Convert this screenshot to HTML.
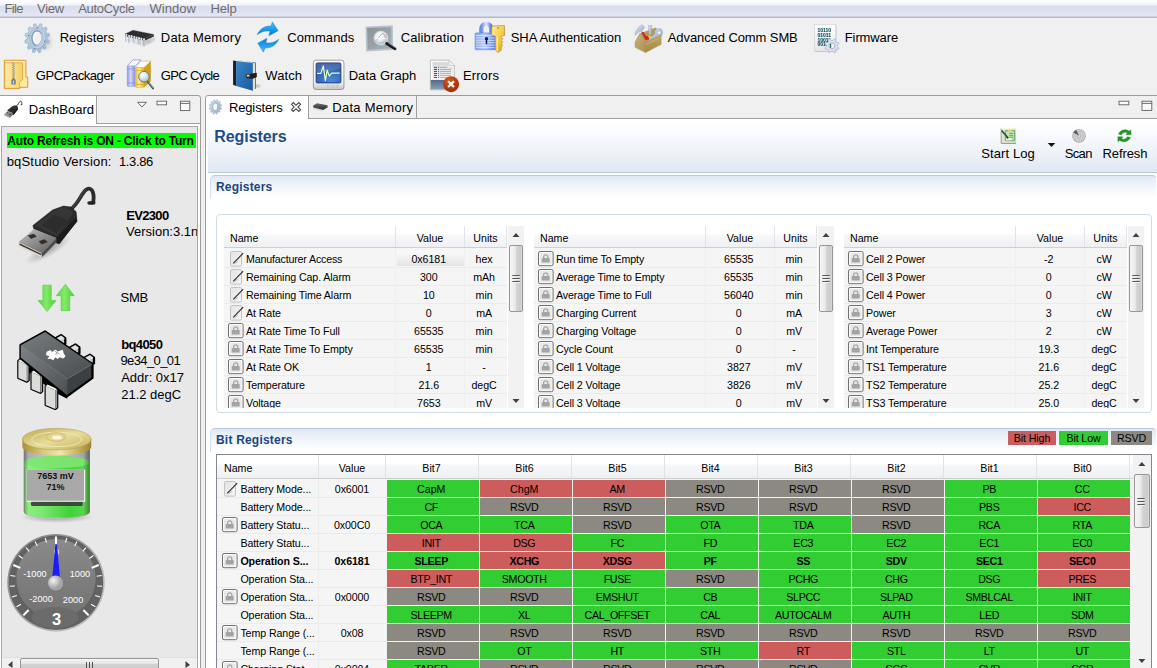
<!DOCTYPE html><html><head><meta charset="utf-8"><title>bqStudio</title><style>
*{box-sizing:border-box;margin:0;padding:0}
html,body{width:1157px;height:668px;overflow:hidden;background:#f0f0f0;font-family:"Liberation Sans",sans-serif;font-size:13px;color:#000}
.a{position:absolute}
.t{position:absolute;white-space:pre;line-height:16px;height:16px}
#menubar{left:0;top:0;width:1157px;height:18px;background:linear-gradient(#ffffff 0px,#f3f4fa 5px,#d9ddee 6px,#e3e6f4 16px,#b4b9cc 17px,#b4b9cc 18px)}
#menubar span{position:absolute;top:1px;color:#6d6d6d;font-size:13px;line-height:16px;white-space:pre}
.tb{position:absolute;font-size:13px;line-height:16px;white-space:pre}
.ar{font-size:11px}
.hd{position:absolute;font-size:10.67px;line-height:14px;white-space:pre}
.rowt{position:absolute;font-size:10.67px;line-height:14px;white-space:pre;letter-spacing:-0.1px}
.rowv{letter-spacing:-0.05px}
.uc{letter-spacing:-0.32px}
.cell{position:absolute;height:17px;width:92px;font-size:10.67px;line-height:14px;text-align:center;padding-top:3px;padding-right:3.5px;white-space:pre}
.G{background:#32cd32}.R{background:#cd5c5c}.V{background:#8b8982}
.b{font-weight:bold}
</style></head><body>
<svg class="a" width="0" height="0" style="left:0;top:0"><defs><linearGradient id="eg" x1="0" y1="0" x2="1" y2="1"><stop offset="0" stop-color="#e2e2e2"/><stop offset="1" stop-color="#f6f6f6"/></linearGradient></defs></svg>
<div id="menubar" class="a">
<span style="letter-spacing:-0.663px;left:4.5px">File</span>
<span style="letter-spacing:-0.238px;left:37px">View</span>
<span style="letter-spacing:-0.294px;left:78.2px">AutoCycle</span>
<span style="letter-spacing:0.058px;left:149.4px">Window</span>
<span style="letter-spacing:-0.188px;left:210.6px">Help</span>
</div>
<div class="tb" style="letter-spacing:-0.058px;left:59.7px;top:30px">Registers</div>
<div class="tb" style="letter-spacing:0.206px;left:160.8px;top:30px">Data Memory</div>
<div class="tb" style="letter-spacing:0.066px;left:287.3px;top:30px">Commands</div>
<div class="tb" style="letter-spacing:0.122px;left:400.7px;top:30px">Calibration</div>
<div class="tb" style="letter-spacing:-0.051px;left:510.7px;top:30px">SHA Authentication</div>
<div class="tb" style="letter-spacing:-0.094px;left:667.8px;top:30px">Advanced Comm SMB</div>
<div class="tb" style="letter-spacing:-0.121px;left:844.8px;top:30px">Firmware</div>
<div class="tb" style="letter-spacing:-0.436px;left:35.8px;top:68px">GPCPackager</div>
<div class="tb" style="letter-spacing:-0.666px;left:160.8px;top:68px">GPC Cycle</div>
<div class="tb" style="letter-spacing:0.068px;left:265.3px;top:68px">Watch</div>
<div class="tb" style="letter-spacing:0.040px;left:348.7px;top:68px">Data Graph</div>
<div class="tb" style="letter-spacing:0.135px;left:462.9px;top:68px">Errors</div>
<svg class="a" style="left:20px;top:19px" width="38" height="38" viewBox="20 19 38 38"><defs><linearGradient id="gg" x1="0" y1="0" x2="1" y2="1"><stop offset="0" stop-color="#cfdeec"/><stop offset="0.45" stop-color="#b7cadd"/><stop offset="1" stop-color="#8fa9c4"/></linearGradient><linearGradient id="gg2" x1="0" y1="0" x2="1" y2="1"><stop offset="0" stop-color="#94aecb"/><stop offset="1" stop-color="#dbe6f0"/></linearGradient><radialGradient id="gsh"><stop offset="0" stop-color="#000" stop-opacity="0.16"/><stop offset="1" stop-color="#000" stop-opacity="0"/></radialGradient></defs><ellipse cx="46" cy="42" rx="8" ry="10" fill="url(#gsh)"/><g transform="translate(37.2 38.2) rotate(8) scale(12.7 15)"><path d="M0.97 0.07 L0.95 0.21 L0.74 0.25 L0.69 0.37 L0.80 0.55 L0.71 0.66 L0.52 0.59 L0.41 0.66 L0.42 0.87 L0.29 0.93 L0.15 0.76 L0.02 0.78 L-0.07 0.97 L-0.21 0.95 L-0.25 0.74 L-0.37 0.69 L-0.55 0.80 L-0.66 0.71 L-0.59 0.52 L-0.66 0.41 L-0.87 0.42 L-0.93 0.29 L-0.76 0.15 L-0.78 0.02 L-0.97 -0.07 L-0.95 -0.21 L-0.74 -0.25 L-0.69 -0.37 L-0.80 -0.55 L-0.71 -0.66 L-0.52 -0.59 L-0.41 -0.66 L-0.42 -0.87 L-0.29 -0.93 L-0.15 -0.76 L-0.02 -0.78 L0.07 -0.97 L0.21 -0.95 L0.25 -0.74 L0.37 -0.69 L0.55 -0.80 L0.66 -0.71 L0.59 -0.52 L0.66 -0.41 L0.87 -0.42 L0.93 -0.29 L0.76 -0.15 L0.78 -0.02Z" fill="url(#gg)" stroke="#a9bfd6" stroke-width="0.09" stroke-linejoin="round"/><ellipse cx="-0.02" cy="-0.02" rx="0.58" ry="0.64" fill="none" stroke="url(#gg2)" stroke-width="0.07" transform="rotate(-14)"/><ellipse cx="-0.02" cy="-0.02" rx="0.39" ry="0.49" fill="#f2f2f3" stroke="#7b99c0" stroke-width="0.1" transform="rotate(-14)"/><ellipse cx="0.05" cy="0.04" rx="0.33" ry="0.43" fill="none" stroke="#ffffff" stroke-width="0.06" transform="rotate(-14)" opacity="0.8"/><circle cx="-0.12" cy="-0.68" r="0.045" fill="#4a6a94"/><circle cx="-0.08" cy="0.7" r="0.045" fill="#4a6a94"/><circle cx="-0.7" cy="-0.1" r="0.045" fill="#4a6a94"/><circle cx="0.62" cy="0.12" r="0.045" fill="#4a6a94"/></g></svg>
<svg class="a" style="left:120px;top:22px" width="40" height="32" viewBox="120 22 40 32"><defs><linearGradient id="pin" x1="0" y1="0" x2="1" y2="0"><stop offset="0" stop-color="#8a94a8"/><stop offset="0.5" stop-color="#eef2f8"/><stop offset="1" stop-color="#98a2b4"/></linearGradient><radialGradient id="csh"><stop offset="0" stop-color="#000" stop-opacity="0.25"/><stop offset="1" stop-color="#000" stop-opacity="0"/></radialGradient></defs><ellipse cx="148" cy="41.5" rx="9" ry="4" fill="url(#csh)" transform="rotate(-22 148 41.5)"/><rect x="146.83" y="37.81" width="1.1" height="5.5" fill="#c4ccd8" opacity="0.8"/><rect x="148.98" y="36.95" width="1.1" height="5.5" fill="#c4ccd8" opacity="0.8"/><rect x="151.14" y="36.08" width="1.1" height="5.5" fill="#c4ccd8" opacity="0.8"/><rect x="153.29" y="35.22" width="1.1" height="5.5" fill="#c4ccd8" opacity="0.8"/><polygon points="125.03,33.98 144.43,38.53 144.43,40.78 125.03,35.99" fill="#1c1c1c"/><polygon points="144.43,38.53 153.77,34.46 153.77,36.61 144.43,40.78" fill="#303030"/><polygon points="132.93,30.14 153.77,34.46 144.43,38.53 125.03,33.98" fill="#2d2d2d" stroke="#3a3a3a" stroke-width="0.3"/><rect x="125.56" y="34.22" width="1.5" height="7.42" fill="url(#pin)"/><rect x="125.36" y="34.22" width="1.9" height="1.6" fill="#dfe6f0"/><rect x="128.43" y="35.17" width="1.5" height="7.52" fill="url(#pin)"/><rect x="128.23000000000002" y="35.17" width="1.9" height="1.6" fill="#dfe6f0"/><rect x="130.83" y="35.51" width="1.5" height="6.23" fill="url(#pin)"/><rect x="130.63000000000002" y="35.51" width="1.9" height="1.6" fill="#dfe6f0"/><rect x="133.46" y="36.28" width="1.5" height="6.89" fill="url(#pin)"/><rect x="133.26000000000002" y="36.28" width="1.9" height="1.6" fill="#dfe6f0"/><rect x="135.86" y="36.95" width="1.5" height="7.56" fill="url(#pin)"/><rect x="135.66000000000003" y="36.95" width="1.9" height="1.6" fill="#dfe6f0"/><rect x="138.25" y="37.43" width="1.5" height="7.08" fill="url(#pin)"/><rect x="138.05" y="37.43" width="1.9" height="1.6" fill="#dfe6f0"/><rect x="140.65" y="38.05" width="1.5" height="7.66" fill="url(#pin)"/><rect x="140.45000000000002" y="38.05" width="1.9" height="1.6" fill="#dfe6f0"/><rect x="143.28" y="38.67" width="1.5" height="7.86" fill="url(#pin)"/><rect x="143.08" y="38.67" width="1.9" height="1.6" fill="#dfe6f0"/></svg>
<svg class="a" style="left:250px;top:18px" width="40" height="40" viewBox="250 18 40 40"><defs><linearGradient id="ca" x1="0" y1="0" x2="0" y2="1"><stop offset="0" stop-color="#52bdf8"/><stop offset="0.55" stop-color="#1a9cee"/><stop offset="1" stop-color="#0a7ad0"/></linearGradient></defs><path d="M 257.19 34.77 C 260.18 28.18 265.57 25.78 270.96 26.08 L 272.46 21.89 L 278.14 30.87 L 268.86 35.66 L 270.06 31.29 C 265.57 30.28 260.78 31.77 257.19 34.77 Z" fill="url(#ca)" stroke="#2c7fc0" stroke-width="0.5" stroke-linejoin="round"/><g transform="rotate(180 267.96 37.01)"><path d="M 257.19 34.77 C 260.18 28.18 265.57 25.78 270.96 26.08 L 272.46 21.89 L 278.14 30.87 L 268.86 35.66 L 270.06 31.29 C 265.57 30.28 260.78 31.77 257.19 34.77 Z" fill="url(#ca)" stroke="#2c7fc0" stroke-width="0.5" stroke-linejoin="round"/></g></svg>
<svg class="a" style="left:360px;top:18px" width="40" height="40" viewBox="360 18 40 40"><defs><linearGradient id="cf" x1="0" y1="0" x2="1" y2="1"><stop offset="0" stop-color="#8a9298"/><stop offset="1" stop-color="#aab2b8"/></linearGradient><radialGradient id="lens" cx="0.4" cy="0.35"><stop offset="0" stop-color="#ffffff"/><stop offset="0.7" stop-color="#e4ecf2"/><stop offset="1" stop-color="#b9c9d6"/></radialGradient></defs><polygon points="366.29,27.28 392.04,26.08 392.34,49.14 366.89,50.63" fill="url(#cf)" stroke="#b9c6cf" stroke-width="1.6" stroke-linejoin="round"/><path d="M 369.88 38.36 L 371.98 37.16 M 388.14 37.76 L 389.94 37.16" stroke="#e08080" stroke-width="0.8" fill="none"/><circle cx="380.96" cy="38.06" r="6.9" fill="url(#lens)" stroke="#d5dee6" stroke-width="1"/><path d="M 375.27 40.75 L 377.37 39.56 L 378.56 37.76 L 379.76 35.96 L 380.66 35.37 L 382.16 33.57 L 383.65 33.69 L 384.85 35.96 L 386.05 38.96" stroke="#f08a8a" stroke-width="0.9" fill="none"/><path d="M 375.27 38.66 L 386.95 38.66" stroke="#fff" stroke-width="0.7"/><path d="M 386.65 43.45 L 395.03 48.84" stroke="#1a1a1a" stroke-width="2.8" stroke-linecap="round"/><path d="M 388.14 43.15 L 395.93 48.24" stroke="#888" stroke-width="0.6"/></svg>
<svg class="a" style="left:470px;top:18px" width="40" height="40" viewBox="470 18 40 40"><defs><linearGradient id="lk" x1="0" y1="0" x2="1" y2="0"><stop offset="0" stop-color="#86a6ee"/><stop offset="0.5" stop-color="#b8ccfa"/><stop offset="1" stop-color="#5c7fdc"/></linearGradient><linearGradient id="ky" x1="0" y1="0" x2="1" y2="1"><stop offset="0" stop-color="#fff0a0"/><stop offset="0.5" stop-color="#f6cf4a"/><stop offset="1" stop-color="#d99a18"/></linearGradient><linearGradient id="sh" x1="0" y1="0" x2="1" y2="0"><stop offset="0" stop-color="#6d8fe6"/><stop offset="0.5" stop-color="#dfe9ff"/><stop offset="1" stop-color="#5577d6"/></linearGradient></defs><path d="M 481.38 33.57 L 481.38 28.78 C 481.38 22.19 491.26 22.19 491.26 28.78 L 491.26 33.57" fill="none" stroke="url(#sh)" stroke-width="4.4"/><rect x="475.09" y="32.97" width="20.06" height="16.77" rx="1" fill="url(#lk)" stroke="#5b7cd8" stroke-width="0.6"/><rect x="475.69" y="35.07" width="19" height="0.9" fill="#e6eeff" opacity="0.75"/><rect x="475.69" y="37.46" width="19" height="0.9" fill="#e6eeff" opacity="0.75"/><rect x="475.69" y="39.86" width="19" height="0.9" fill="#e6eeff" opacity="0.75"/><rect x="475.69" y="42.25" width="19" height="0.9" fill="#e6eeff" opacity="0.75"/><rect x="475.69" y="44.65" width="19" height="0.9" fill="#e6eeff" opacity="0.75"/><rect x="475.69" y="47.04" width="19" height="0.9" fill="#e6eeff" opacity="0.75"/><circle cx="486.47" cy="38.66" r="1.7" fill="#0b1a6a"/><rect x="485.67" y="38.66" width="1.6" height="5.6" fill="#0b1a6a"/><path d="M 491.86 26.08 L 504.43 25.49 L 504.73 35.37 L 501.14 36.26 L 501.14 37.76 L 502.81 38.66 L 501.26 40.46 L 502.81 41.95 L 501.26 43.75 L 502.63 45.25 L 501.26 46.74 L 501.14 50.34 L 497.84 52.61 L 495.45 50.34 L 495.45 36.26 L 491.56 35.07 Z" fill="url(#ky)" stroke="#b98a3e" stroke-width="0.7" stroke-linejoin="round"/><path d="M 497.25 36.56 L 497.25 51.53" stroke="#fff6c0" stroke-width="1"/><circle cx="498.14" cy="27.88" r="1.1" fill="#c79a3a"/></svg>
<svg class="a" style="left:630px;top:18px" width="40" height="40" viewBox="630 18 40 40"><defs><linearGradient id="tl" x1="0" y1="0" x2="1" y2="1"><stop offset="0" stop-color="#cdb47a"/><stop offset="1" stop-color="#a88e52"/></linearGradient><linearGradient id="tf" x1="0" y1="0" x2="0" y2="1"><stop offset="0" stop-color="#c2a662"/><stop offset="1" stop-color="#a38845"/></linearGradient><linearGradient id="sv" x1="0" y1="0" x2="1" y2="1"><stop offset="0" stop-color="#e8eef8"/><stop offset="1" stop-color="#8e9ebc"/></linearGradient></defs><polygon points="639.88,33.57 655.75,27.58 661.14,35.37 645.57,41.95" fill="#b59a5a"/><path d="M 635.09 35.37 C 634.79 31.17 637.78 27.58 641.98 24.59 L 644.67 26.98 L 642.87 29.98 L 638.98 32.07 Z" fill="url(#sv)" stroke="#8c9cb8" stroke-width="0.4"/><polygon points="641.08,31.47 643.47,32.07 647.96,39.56 645.57,40.16" fill="#d02020"/><polygon points="648.26,25.49 651.86,25.49 651.26,35.37 649.16,35.37" fill="url(#sv)" stroke="#8c9cb8" stroke-width="0.4"/><polygon points="647.96,35.96 652.16,35.96 649.76,40.16" fill="#f4d020"/><polygon points="645.27,36.56 647.96,35.96 649.76,40.16 647.37,39.56" fill="#d82020"/><path d="M 646.17 41.95 L 647.96 40.46 L 655.15 33.57 C 653.95 29.98 656.95 27.58 661.14 28.78 L 662.63 31.77 L 662.04 35.37 L 658.14 36.56 L 649.76 42.55 Z" fill="url(#sv)" stroke="#8c9cb8" stroke-width="0.4"/><circle cx="659.04" cy="32.67" r="2" fill="#f4f6fa" stroke="#7f90b0" stroke-width="0.5"/><polygon points="635.09,47.34 635.09,41.95 639.88,33.57 645.57,41.95 645.57,52.61" fill="url(#tl)" stroke="#9a8044" stroke-width="0.4" stroke-linejoin="round"/><polygon points="645.57,41.95 661.14,35.37 661.14,44.35 645.57,52.61" fill="url(#tf)" stroke="#9a8044" stroke-width="0.4" stroke-linejoin="round"/><path d="M 645.69 44.35 L 661.14 37.46" stroke="#d4bc80" stroke-width="0.6"/></svg>
<svg class="a" style="left:808px;top:18px" width="40" height="40" viewBox="808 18 40 40"><defs><linearGradient id="pg" x1="0" y1="0" x2="0" y2="1"><stop offset="0" stop-color="#ffffff"/><stop offset="1" stop-color="#e6e6e6"/></linearGradient><filter id="nf" x="0" y="0" width="1" height="1"><feOffset dx="0" dy="0"/></filter></defs><rect x="815.19" y="25.09" width="21.25" height="26.94" fill="#000" opacity="0.18"/><rect x="814.59" y="24.29" width="21.25" height="26.94" fill="url(#pg)" stroke="#c4c4c4" stroke-width="0.5"/><g filter="url(#nf)"><text x="817.58" y="31.77" font-family="Liberation Sans, sans-serif" font-weight="bold" font-size="5" fill="#08485a" stroke="#08485a" stroke-width="0.1" textLength="13.4" lengthAdjust="spacing">10110</text><text x="817.58" y="36.56" font-family="Liberation Sans, sans-serif" font-weight="bold" font-size="5" fill="#08485a" stroke="#08485a" stroke-width="0.1" textLength="13.4" lengthAdjust="spacing">01011</text><text x="817.58" y="41.65" font-family="Liberation Sans, sans-serif" font-weight="bold" font-size="5" fill="#08485a" stroke="#08485a" stroke-width="0.1" textLength="13.4" lengthAdjust="spacing">10011</text><text x="817.58" y="46.44" font-family="Liberation Sans, sans-serif" font-weight="bold" font-size="5" fill="#08485a" stroke="#08485a" stroke-width="0.1" textLength="13.4" lengthAdjust="spacing">00101</text></g><path d="M839.03 47.99 L838.45 49.38 L836.31 49.03 L835.11 50.22 L835.44 52.37 L834.04 52.94 L832.78 51.18 L831.09 51.17 L829.80 52.92 L828.41 52.34 L828.76 50.20 L827.57 49.00 L825.42 49.33 L824.85 47.93 L826.61 46.67 L826.62 44.98 L824.87 43.69 L825.45 42.30 L827.59 42.65 L828.79 41.46 L828.46 39.31 L829.86 38.74 L831.12 40.50 L832.81 40.51 L834.10 38.76 L835.49 39.34 L835.14 41.48 L836.33 42.68 L838.48 42.35 L839.05 43.75 L837.29 45.01 L837.28 46.70Z" fill="#dde2f3" stroke="#a9b1c9" stroke-width="0.7" stroke-linejoin="round"/><circle cx="831.95" cy="45.84" r="2.9" fill="#f4f4f8" stroke="#9aa4c0" stroke-width="0.8"/><path d="M830.6500000000001 43.84 v4" stroke="#0b4a5a" stroke-width="1"/></svg>
<svg class="a" style="left:0px;top:56px" width="40" height="40" viewBox="0 56 40 40"><defs><linearGradient id="fz" x1="0" y1="0" x2="1" y2="0"><stop offset="0" stop-color="#ffeaa4"/><stop offset="1" stop-color="#f7d264"/></linearGradient></defs><path d="M 4.31 60.31 H 25.93 V 77.08 H 27.72 V 87.32 H 19.76 V 88.63 H 4.31 Z" fill="#ffe9a2" stroke="#d88f20" stroke-width="0.9" stroke-linejoin="round"/><path d="M 5.09 61.99 H 25.15" stroke="#fff8dc" stroke-width="1"/><path d="M 4.79 62.71 H 22.46 V 79.65 L 19.46 82.23 V 88.34 H 4.79 Z" fill="url(#fz)" stroke="#dc9a30" stroke-width="0.7" stroke-linejoin="round"/><path d="M 13.47 61.99 L 12.28 63.07 L 14.67 64.14 L 12.28 65.22 L 14.67 66.3 L 12.28 67.38 L 14.67 68.46 L 12.28 69.53 L 14.67 70.61 L 12.28 71.69 L 14.67 72.77 L 12.28 73.84 L 14.67 74.92 L 12.28 76.0 L 14.67 77.08 L 12.28 78.16" stroke="#60709a" stroke-width="0.5" fill="none"/><polygon points="11.38,79.95 13.47,77.86 15.69,79.95 15.69,84.62 11.38,84.62" fill="#6c7a9c"/><rect x="12.87" y="80.55" width="1.3" height="3.2" fill="#c8d0e0"/></svg>
<svg class="a" style="left:120px;top:56px" width="40" height="40" viewBox="120 56 40 40"><defs><linearGradient id="bb" x1="0" y1="0" x2="1" y2="0"><stop offset="0" stop-color="#9098ec"/><stop offset="0.45" stop-color="#d4d8ff"/><stop offset="1" stop-color="#8890e4"/></linearGradient><linearGradient id="yb" x1="0" y1="0" x2="1" y2="0"><stop offset="0" stop-color="#e8b820"/><stop offset="0.45" stop-color="#fff0a0"/><stop offset="1" stop-color="#e0b028"/></linearGradient><radialGradient id="mg" cx="0.4" cy="0.35"><stop offset="0" stop-color="#ffffff"/><stop offset="0.6" stop-color="#dcecf6"/><stop offset="1" stop-color="#b4d0e4"/></radialGradient></defs><polygon points="127.19,66.18 132.87,59.89 140.96,59.89 134.97,66.18" fill="#fafafa" stroke="#7078dc" stroke-width="0.6"/><rect x="127.19" y="66.18" width="7.78" height="20.36" rx="1" fill="url(#bb)" stroke="#8088e0" stroke-width="0.4"/><path d="M 127.49 68.87 L 134.67 68.87 M 127.49 82.95 L 134.67 82.95" stroke="#8890e8" stroke-width="0.8"/><polygon points="135.27,67.68 140.96,61.09 150.84,61.09 143.95,67.68" fill="#fafafa" stroke="#d0a020" stroke-width="0.5"/><polygon points="143.95,67.68 150.84,61.09 150.84,81.15 143.95,87.44" fill="#c9a11c"/><rect x="135.27" y="67.68" width="8.68" height="19.76" rx="1" fill="url(#yb)" stroke="#d8a820" stroke-width="0.4"/><path d="M 135.57 70.37 L 143.65 70.37 M 135.57 84.44 L 143.65 84.44" stroke="#dca818" stroke-width="0.8"/><path d="M 147.66 81.63 L 153.05 88.46" stroke="#4a4a4a" stroke-width="1.9" stroke-linecap="round"/><path d="M 148.14 81.87 L 153.29 88.22" stroke="#c8c8c8" stroke-width="0.6"/><circle cx="143.95" cy="76.66" r="5.3" fill="url(#mg)" stroke="#6c6c6c" stroke-width="0.9"/></svg>
<svg class="a" style="left:225px;top:56px" width="40" height="40" viewBox="225 56 40 40"><defs><linearGradient id="wb" x1="0" y1="0" x2="1" y2="1"><stop offset="0" stop-color="#3a86c8"/><stop offset="0.5" stop-color="#2a70b4"/><stop offset="1" stop-color="#1c5a9c"/></linearGradient><radialGradient id="wsh"><stop offset="0" stop-color="#000" stop-opacity="0.25"/><stop offset="1" stop-color="#000" stop-opacity="0"/></radialGradient></defs><ellipse cx="257" cy="86" rx="5" ry="2.5" fill="url(#wsh)"/><polygon points="236.08,60.19 255.84,62.59 255.84,88.63 254.94,89.05 254.94,63.19" fill="#2a6aa8"/><polygon points="236.98,60.07 251.35,61.69 252.84,62.89 236.08,61.09" fill="#e8e4d0"/><polygon points="252.84,62.89 254.94,63.49 254.94,89.05 252.84,90.73" fill="#e6e2c8"/><polygon points="233.08,60.49 236.08,61.09 236.08,85.94 233.08,84.74" fill="#1e1e1e"/><polygon points="236.08,61.09 252.84,62.89 252.84,90.73 236.08,85.94" fill="url(#wb)"/><polygon points="245.36,74.68 256.74,72.65 256.86,76.96 253.14,78.75 246.56,78.28" fill="#202020"/><rect x="246.75" y="74.76" width="2.8" height="2" fill="#cfd8dc" stroke="#555" stroke-width="0.4"/></svg>
<svg class="a" style="left:308px;top:56px" width="40" height="40" viewBox="308 56 40 40"><defs><linearGradient id="mb" x1="0" y1="0" x2="0" y2="1"><stop offset="0" stop-color="#ffffff"/><stop offset="0.75" stop-color="#f0f0f0"/><stop offset="1" stop-color="#c4c6c4"/></linearGradient><radialGradient id="ms" cx="0.6" cy="0.9" r="0.9"><stop offset="0" stop-color="#4a8ada"/><stop offset="1" stop-color="#28509e"/></radialGradient></defs><rect x="313.39" y="60.19" width="30.54" height="29.34" rx="2.6" fill="url(#mb)" stroke="#8a8a8a" stroke-width="0.8"/><rect x="316.08" y="62.89" width="24.85" height="20.06" rx="1.2" fill="url(#ms)" stroke="#16306c" stroke-width="0.8"/><path d="M 316.38 63.19 L 340.63 63.19 L 340.63 67.98 C 331.95 71.57 322.97 72.17 316.38 71.57 Z" fill="#fff" opacity="0.14"/><path d="M 316.98 73.37 L 320.87 73.37 L 323.27 65.88 L 325.37 80.55 L 327.16 70.07 L 329.26 76.06 L 331.65 73.07 L 339.74 73.07" stroke="#e2ffc4" stroke-width="1.2" fill="none" stroke-linejoin="round"/><circle cx="328.36" cy="86.24" r="1.2" fill="#e8e8e8" stroke="#a0a0a0" stroke-width="0.5"/><circle cx="332.85" cy="86.24" r="1.2" fill="#e8e8e8" stroke="#a0a0a0" stroke-width="0.5"/><circle cx="337.34" cy="86.24" r="1.2" fill="#e8e8e8" stroke="#a0a0a0" stroke-width="0.5"/></svg>
<svg class="a" style="left:425px;top:56px" width="40" height="40" viewBox="425 56 40 40"><defs><linearGradient id="eb" x1="0" y1="0" x2="0" y2="1"><stop offset="0" stop-color="#506a86"/><stop offset="1" stop-color="#8aa0b8"/></linearGradient><radialGradient id="er" cx="0.4" cy="0.3" r="0.8"><stop offset="0" stop-color="#d85818"/><stop offset="0.6" stop-color="#b83808"/><stop offset="1" stop-color="#962400"/></radialGradient><linearGradient id="ep" x1="0" y1="0" x2="0" y2="1"><stop offset="0" stop-color="#d8d8d8"/><stop offset="1" stop-color="#f4f4f4"/></linearGradient></defs><path d="M 430.39 60.19 L 449.25 60.19 L 454.34 65.46 L 454.34 89.83 L 430.39 89.83 Z" fill="#fdfdfd" stroke="#a8a8a8" stroke-width="0.7" stroke-linejoin="round"/><path d="M 432.49 61.99 L 448.35 61.99 L 448.35 66.78 L 452.84 66.78 L 452.84 79.65 L 432.49 79.65 Z" fill="url(#ep)"/><path d="M 448.95 60.49 L 448.95 65.58 L 454.22 65.58" fill="#f4f4f4" stroke="#b0b0b0" stroke-width="0.6"/><rect x="430.69" y="79.95" width="23.41" height="9.58" fill="url(#eb)"/><rect x="433.98" y="66.88" width="3" height="1" fill="#1060d0"/><rect x="438.18" y="66.88" width="0.9" height="1" fill="#1060d0"/><rect x="439.98" y="66.97999999999999" width="7" height="0.8" fill="#9a9a9a" opacity="0.8"/><rect x="433.98" y="68.97" width="3" height="1" fill="#e01010"/><rect x="438.18" y="68.97" width="0.9" height="1" fill="#e01010"/><rect x="439.98" y="69.07" width="11" height="0.8" fill="#9a9a9a" opacity="0.8"/><rect x="433.98" y="70.95" width="3" height="1" fill="#1060d0"/><rect x="438.18" y="70.95" width="0.9" height="1" fill="#1060d0"/><rect x="439.98" y="71.05" width="11" height="0.8" fill="#9a9a9a" opacity="0.8"/><rect x="433.98" y="72.99" width="3" height="1" fill="#e01010"/><rect x="438.18" y="72.99" width="0.9" height="1" fill="#e01010"/><rect x="439.98" y="73.08999999999999" width="11" height="0.8" fill="#9a9a9a" opacity="0.8"/><rect x="433.98" y="74.96" width="3" height="1" fill="#1060d0"/><rect x="438.18" y="74.96" width="0.9" height="1" fill="#1060d0"/><rect x="439.98" y="75.05999999999999" width="11" height="0.8" fill="#9a9a9a" opacity="0.8"/><rect x="433.98" y="76.94" width="3" height="1" fill="#e01010"/><rect x="438.18" y="76.94" width="0.9" height="1" fill="#e01010"/><rect x="439.98" y="77.03999999999999" width="11" height="0.8" fill="#9a9a9a" opacity="0.8"/><circle cx="451.05" cy="84.14" r="8" fill="url(#er)"/><path d="M448.15000000000003 81.24 l5.8 5.8 M453.95 81.24 l-5.8 5.8" stroke="#fff" stroke-width="2.2"/></svg>
<div class="a" style="left:-1px;top:95px;width:202px;height:580px;border:1px solid #9c9c9c;border-radius:0 3px 0 0;background:#f0f0f0"></div>
<div class="a" style="left:0;top:96px;width:97px;height:28px;background:#fff;border-right:1px solid #a0a0a0"></div>
<div class="a" style="left:96px;top:123px;width:104px;height:1px;background:#a0a0a0"></div>
<div class="a" style="left:0px;top:124px;width:200px;height:545px;background:#fff"></div>
<div class="a" style="left:1px;top:126px;width:197px;height:545px;background:#e8e8e8;border:1px solid #a8a8a8"></div>
<div class="tb" style="letter-spacing:0.017px;left:28.8px;top:102px">DashBoard</div>
<div class="a" style="left:7px;top:133px;width:189px;height:15px;background:#00ff00;overflow:hidden"><div class="t b" style="letter-spacing:-0.198px;left:0.3px;top:1px;font-size:12px;line-height:15px">Auto Refresh is ON - Click to Turn</div></div>
<div class="tb" style="letter-spacing:0.176px;left:6.7px;top:153.5px">bqStudio Version:</div>
<div class="tb" style="letter-spacing:-0.343px;left:118.9px;top:153.5px">1.3.86</div>
<div class="tb b" style="letter-spacing:-0.661px;left:126.2px;top:207.5px">EV2300</div>
<div class="a" style="left:126px;top:223.5px;width:71px;height:16px;overflow:hidden"><div class="tb" style="left:0;top:0">Version:3.1n</div></div>
<div class="tb" style="letter-spacing:-0.224px;left:120.5px;top:290px">SMB</div>
<div class="tb b" style="letter-spacing:-0.602px;left:121.2px;top:336.5px">bq4050</div>
<div class="tb" style="letter-spacing:-0.609px;left:120.5px;top:352.5px">9e34_0_01</div>
<div class="tb" style="left:121.2px;top:369.5px">Addr: 0x17</div>
<div class="tb" style="left:121.2px;top:386.5px">21.2 degC</div>
<svg class="a" style="left:10px;top:180px" width="95" height="85" viewBox="10 180 95 85"><defs><linearGradient id="um" x1="0" y1="0" x2="1" y2="1"><stop offset="0" stop-color="#c4c4c4"/><stop offset="0.5" stop-color="#8c8c8c"/><stop offset="1" stop-color="#5e5e5e"/></linearGradient><radialGradient id="ush"><stop offset="0" stop-color="#000" stop-opacity="0.3"/><stop offset="1" stop-color="#000" stop-opacity="0"/></radialGradient></defs><ellipse cx="48" cy="250" rx="26" ry="7" fill="url(#ush)" transform="rotate(-30 48 250)"/><path d="M 69.8 209.9 C 78.7 204.17 80.61 193.99 86.34 189.54 C 91.42 186.36 94.61 192.09 93.33 201.63" fill="none" stroke="#2c2c2c" stroke-width="3.8" stroke-linecap="round"/><path d="M 71.07 208.63 C 78.7 202.9 80.61 193.36 86.08 188.91" fill="none" stroke="#555" stroke-width="0.8"/><ellipse cx="91.42" cy="202.9" rx="4.1" ry="1.9" fill="#242424"/><path d="M 32.9 225.55 L 52.62 209.9 L 63.44 206.08 L 71.07 206.97 L 76.16 211.81 L 77.05 221.35 L 67.25 233.44 L 59.36 243.87 L 56.06 242.98 L 56.06 237.89 L 33.92 229.36 Z" fill="#2b2b2b" stroke="#1a1a1a" stroke-width="0.5" stroke-linejoin="round"/><path d="M 34.81 225.8 L 53.26 211.17 L 63.44 207.35 L 73.61 211.81 L 57.33 235.98 Z" fill="#363636"/><path d="M 41.81 225.17 L 53.89 214.99 L 67.89 220.08 L 56.44 233.44 Z" fill="#2d2d2d"/><path d="M 56.44 237.89 L 76.16 216.9 L 77.05 221.35 L 59.36 243.87 L 56.44 242.98 Z" fill="#1c1c1c"/><polygon points="18.27,242.34 34.17,228.98 56.44,237.89 41.81,253.16" fill="url(#um)"/><polygon points="18.27,242.34 41.81,253.16 41.81,257.35 18.65,246.41" fill="#d9d9d9"/><polygon points="19.54,243.36 41.17,253.79 41.17,255.32 19.54,244.89" fill="#4a3a2a"/><polygon points="41.81,253.16 56.44,237.89 56.44,242.6 41.81,257.35" fill="#4a4a4a"/><polygon points="27.81,235.6 33.54,233.82 36.97,236.62 30.99,238.91" fill="#3a2e24"/><polygon points="38.63,241.2 44.35,239.29 47.79,241.96 41.81,244.38" fill="#3a2e24"/></svg>
<svg class="a" style="left:2px;top:98px" width="24" height="22" viewBox="2 98 24 22"><g transform="translate(-0.289 54.787) scale(0.2363 0.2458)"><path d="M 69.8 209.9 C 78.7 204.17 80.61 193.99 86.34 189.54 C 91.42 186.36 94.61 192.09 93.33 201.63" fill="none" stroke="#2c2c2c" stroke-width="3.8" stroke-linecap="round"/><path d="M 71.07 208.63 C 78.7 202.9 80.61 193.36 86.08 188.91" fill="none" stroke="#555" stroke-width="0.8"/><ellipse cx="91.42" cy="202.9" rx="4.1" ry="1.9" fill="#242424"/><path d="M 32.9 225.55 L 52.62 209.9 L 63.44 206.08 L 71.07 206.97 L 76.16 211.81 L 77.05 221.35 L 67.25 233.44 L 59.36 243.87 L 56.06 242.98 L 56.06 237.89 L 33.92 229.36 Z" fill="#2b2b2b" stroke="#1a1a1a" stroke-width="0.5" stroke-linejoin="round"/><path d="M 34.81 225.8 L 53.26 211.17 L 63.44 207.35 L 73.61 211.81 L 57.33 235.98 Z" fill="#363636"/><path d="M 41.81 225.17 L 53.89 214.99 L 67.89 220.08 L 56.44 233.44 Z" fill="#2d2d2d"/><path d="M 56.44 237.89 L 76.16 216.9 L 77.05 221.35 L 59.36 243.87 L 56.44 242.98 Z" fill="#1c1c1c"/><polygon points="18.27,242.34 34.17,228.98 56.44,237.89 41.81,253.16" fill="url(#um)"/><polygon points="18.27,242.34 41.81,253.16 41.81,257.35 18.65,246.41" fill="#d9d9d9"/><polygon points="19.54,243.36 41.17,253.79 41.17,255.32 19.54,244.89" fill="#4a3a2a"/><polygon points="41.81,253.16 56.44,237.89 56.44,242.6 41.81,257.35" fill="#4a4a4a"/><polygon points="27.81,235.6 33.54,233.82 36.97,236.62 30.99,238.91" fill="#3a2e24"/><polygon points="38.63,241.2 44.35,239.29 47.79,241.96 41.81,244.38" fill="#3a2e24"/></g></svg>
<svg class="a" style="left:30px;top:278px" width="55" height="40" viewBox="30 278 55 40"><defs><linearGradient id="ga" x1="0" y1="0" x2="1" y2="0"><stop offset="0" stop-color="#58d444"/><stop offset="0.45" stop-color="#80ec68"/><stop offset="1" stop-color="#4fcc3c"/></linearGradient></defs><path d="M 42.87 285.19 L 51.26 285.19 L 51.26 300.46 L 56.05 300.46 L 47.07 311.53 L 38.08 300.46 L 42.87 300.46 Z" fill="url(#ga)" stroke="#52cc40" stroke-width="0.6" stroke-linejoin="round"/><path d="M 65.33 284.29 L 74.31 295.66 L 69.82 295.66 L 69.82 310.63 L 61.14 310.63 L 61.14 295.66 L 56.35 295.66 Z" fill="url(#ga)" stroke="#52cc40" stroke-width="0.6" stroke-linejoin="round"/></svg>
<svg class="a" style="left:10px;top:325px" width="95" height="90" viewBox="10 325 95 90"><defs><linearGradient id="ct" x1="0" y1="0" x2="1" y2="1"><stop offset="0" stop-color="#787d7f"/><stop offset="1" stop-color="#484c4e"/></linearGradient><linearGradient id="cfr" x1="0" y1="0" x2="1" y2="1"><stop offset="0" stop-color="#7e8385"/><stop offset="1" stop-color="#4c5052"/></linearGradient></defs><polygon points="55.15,338.48 61.21,335.11 65.26,338.07 65.26,343.87 59.19,344.54" fill="#c4c8c4" stroke="#000" stroke-width="2.3" stroke-linejoin="round"/><polygon points="55.42,338.75 61.21,335.51 64.85,338.21 59.19,341.44" fill="#dfe2df"/><polygon points="69.3,347.91 75.36,344.54 79.41,347.51 79.41,353.3 73.34,353.98" fill="#c4c8c4" stroke="#000" stroke-width="2.3" stroke-linejoin="round"/><polygon points="69.57,348.18 75.36,344.95 79.0,347.64 73.34,350.88" fill="#dfe2df"/><polygon points="83.85,358.02 89.92,354.65 93.96,357.61 93.96,363.41 87.9,364.08" fill="#c4c8c4" stroke="#000" stroke-width="2.3" stroke-linejoin="round"/><polygon points="84.12,358.29 89.92,355.05 93.56,357.75 87.9,360.98" fill="#dfe2df"/><polygon points="20.78,356.67 67.28,394.41 67.28,398.85 55.82,393.06 42.35,382.95 28.87,372.17 20.78,365.43" fill="#000"/><polygon points="18.36,361.12 20.11,359.37 28.6,363.41 28.6,380.26 26.85,381.6 18.36,377.96" fill="#000" stroke="#000" stroke-width="2.3" stroke-linejoin="round"/><polygon points="18.36,361.12 26.85,364.76 26.85,381.6 18.36,377.96" fill="#d9dcd9"/><polygon points="26.85,364.76 28.6,363.41 28.6,380.26 26.85,381.6" fill="#9a9e9a"/><polygon points="18.36,361.12 20.11,359.37 28.6,363.41 26.85,364.76" fill="#f0f2f0"/><polygon points="31.56,372.17 33.32,370.42 42.08,374.6 42.08,391.44 40.32,392.79 31.56,389.02" fill="#000" stroke="#000" stroke-width="2.3" stroke-linejoin="round"/><polygon points="31.56,372.17 40.32,375.94 40.32,392.79 31.56,389.02" fill="#d9dcd9"/><polygon points="40.32,375.94 42.08,374.6 42.08,391.44 40.32,392.79" fill="#9a9e9a"/><polygon points="31.56,372.17 33.32,370.42 42.08,374.6 40.32,375.94" fill="#f0f2f0"/><polygon points="45.71,386.32 47.47,384.57 57.17,389.02 57.17,407.61 55.15,408.96 45.71,404.92" fill="#000" stroke="#000" stroke-width="2.3" stroke-linejoin="round"/><polygon points="45.71,386.32 55.15,390.36 55.15,408.96 45.71,404.92" fill="#d9dcd9"/><polygon points="55.15,390.36 57.17,389.02 57.17,407.61 55.15,408.96" fill="#9a9e9a"/><polygon points="45.71,386.32 47.47,384.57 57.17,389.02 55.15,390.36" fill="#f0f2f0"/><polygon points="20.51,344.95 45.04,331.47 92.48,364.08 92.48,377.83 67.28,396.16 20.51,358.02" fill="#3c4042" stroke="#000" stroke-width="2.3" stroke-linejoin="round"/><polygon points="20.78,345.22 67.28,378.91 67.28,395.35 20.78,357.61" fill="url(#cfr)"/><polygon points="20.78,345.22 45.04,332.01 92.21,364.08 67.28,378.91" fill="url(#ct)"/><path d="M 20.78 345.22 L 67.28 378.91 L 92.21 364.08" fill="none" stroke="#8a8e90" stroke-width="0.5"/><path d="M 46.66 351.68 L 50.43 349.93 L 52.05 351.95 L 55.82 349.53 L 57.44 351.42 L 62.83 349.8 L 63.64 353.3 L 65.53 356.27 L 63.23 358.42 L 59.87 357.35 L 57.44 358.96 L 55.15 357.35 L 53.4 360.31 L 50.43 358.69 L 47.47 358.96 L 49.35 356.27 L 45.85 354.92 Z" fill="#fff"/><path d="M 55.15 351.28 L 59.19 353.98 M 56.5 352.63 L 55.82 354.92" stroke="#555" stroke-width="0.6" fill="none"/></svg>
<svg class="a" style="left:0px;top:415px" width="130" height="115" viewBox="0 415 130 115"><defs><linearGradient id="bg" x1="0" y1="0" x2="1" y2="0"><stop offset="0" stop-color="#8ff083"/><stop offset="0.25" stop-color="#7fe874"/><stop offset="0.7" stop-color="#3fd238"/><stop offset="1" stop-color="#63d65a"/></linearGradient><linearGradient id="bgl" x1="0" y1="0" x2="1" y2="0"><stop offset="0" stop-color="#a8a8a8"/><stop offset="0.5" stop-color="#d0d0d0"/><stop offset="1" stop-color="#9a9a9a"/></linearGradient><linearGradient id="bc" x1="0" y1="0" x2="1" y2="0"><stop offset="0" stop-color="#a89238"/><stop offset="0.3" stop-color="#d8c878"/><stop offset="0.55" stop-color="#f0e6b0"/><stop offset="0.8" stop-color="#c8b460"/><stop offset="1" stop-color="#9a8430"/></linearGradient><linearGradient id="bct" x1="0" y1="0" x2="1" y2="1"><stop offset="0" stop-color="#bca84c"/><stop offset="0.5" stop-color="#e8dc9c"/><stop offset="1" stop-color="#c4b058"/></linearGradient><radialGradient id="bsh"><stop offset="0" stop-color="#000" stop-opacity="0.35"/><stop offset="1" stop-color="#000" stop-opacity="0"/></radialGradient></defs><ellipse cx="57" cy="517" rx="37" ry="6" fill="url(#bsh)"/><path d="M 23.75 445.98 L 23.75 511.39 C 23.75 520.85 89.85 520.85 89.85 511.39 L 89.85 445.98 Z" fill="url(#bgl)"/><path d="M 24.44 462.33 C 24.44 453.73 89.16 453.73 89.16 462.33 L 89.16 511.39 C 89.16 519.99 24.44 519.99 24.44 511.39 Z" fill="url(#bg)"/><path d="M 24.44 462.33 C 24.44 453.73 89.16 453.73 89.16 462.33 C 89.16 470.08 24.44 470.08 24.44 462.33 Z" fill="#7ee672" opacity="0.9"/><linearGradient id="bes" x1="0" y1="0" x2="1" y2="0"><stop offset="0" stop-color="#000" stop-opacity="0.32"/><stop offset="0.07" stop-color="#000" stop-opacity="0"/><stop offset="0.9" stop-color="#000" stop-opacity="0"/><stop offset="1" stop-color="#000" stop-opacity="0.38"/></linearGradient><path d="M 23.75 445.98 L 23.75 511.39 C 23.75 520.85 89.85 520.85 89.85 511.39 L 89.85 445.98 Z" fill="url(#bes)"/><path d="M 22.38 439.1 L 22.38 446.84 C 22.38 458.03 91.22 458.03 91.22 446.84 L 91.22 439.1 Z" fill="url(#bc)"/><ellipse cx="56.8" cy="439.1" rx="34.4" ry="10.8" fill="url(#bct)" stroke="#b09a40" stroke-width="0.5"/><ellipse cx="56.8" cy="439.40000000000003" rx="25" ry="7.2" fill="none" stroke="#f4ecc0" stroke-width="1" opacity="0.8"/><ellipse cx="55.94" cy="437.03" rx="9.5" ry="4.3" fill="#e2d590" stroke="#b8a448" stroke-width="0.5"/><ellipse cx="56.94" cy="437.53" rx="5" ry="2" fill="#faf6dc"/><rect x="30.98" y="501.06" width="51.64" height="4.82" rx="1.5" fill="#333" opacity="0.85"/><rect x="26.68" y="469.73" width="58.52" height="32.02" fill="#fff"/><rect x="26.68" y="469.73" width="57.52" height="31.02" fill="#a8a8a8"/></svg>
<div class="t b" style="left:26.5px;top:471px;width:58px;text-align:center;font-size:9px;line-height:11.2px;height:24px;color:#101010">7653 mV
71%</div>
<svg class="a" style="left:5px;top:532px" width="104" height="102" viewBox="5 532 104 102"><defs><radialGradient id="gf" cx="0.5" cy="0.35" r="0.75"><stop offset="0" stop-color="#909090"/><stop offset="0.6" stop-color="#747474"/><stop offset="1" stop-color="#5c5c5c"/></radialGradient><linearGradient id="grim" x1="0" y1="0" x2="1" y2="1"><stop offset="0" stop-color="#7a7a7a"/><stop offset="0.5" stop-color="#a8a8a8"/><stop offset="1" stop-color="#c8c8c8"/></linearGradient><linearGradient id="gin" x1="0" y1="0" x2="0" y2="1"><stop offset="0" stop-color="#8a8a8a"/><stop offset="1" stop-color="#727272"/></linearGradient><radialGradient id="hub" cx="0.35" cy="0.35"><stop offset="0" stop-color="#f4f4f4"/><stop offset="1" stop-color="#a4a4a4"/></radialGradient></defs><circle cx="56" cy="582.7" r="48.7" fill="url(#grim)"/><circle cx="56" cy="582.7" r="47.1" fill="#626262"/><circle cx="56" cy="578.7" r="39.7" fill="url(#gin)"/><ellipse cx="55" cy="617.5" rx="23.5" ry="10.5" fill="#6b6b6b"/><path d="M23.33 615.37L28.63 610.07" stroke="#fff" stroke-width="2.1"/><path d="M16.61 606.84L20.87 604.23" stroke="#fff" stroke-width="1.1"/><path d="M12.06 596.98L16.82 595.43" stroke="#fff" stroke-width="1.1"/><path d="M9.94 586.32L14.93 585.93" stroke="#fff" stroke-width="1.1"/><path d="M10.37 575.47L15.31 576.25" stroke="#fff" stroke-width="1.1"/><path d="M13.32 565.02L20.25 567.89" stroke="#fff" stroke-width="2.1"/><path d="M18.62 555.54L22.67 558.48" stroke="#fff" stroke-width="1.1"/><path d="M26.00 547.57L29.24 551.37" stroke="#fff" stroke-width="1.1"/><path d="M35.03 541.54L37.30 545.99" stroke="#fff" stroke-width="1.1"/><path d="M45.21 537.78L46.38 542.64" stroke="#fff" stroke-width="1.1"/><path d="M56.00 536.50L56.00 544.00" stroke="#fff" stroke-width="2.1"/><path d="M66.79 537.78L65.62 542.64" stroke="#fff" stroke-width="1.1"/><path d="M76.97 541.54L74.70 545.99" stroke="#fff" stroke-width="1.1"/><path d="M86.00 547.57L82.76 551.37" stroke="#fff" stroke-width="1.1"/><path d="M93.38 555.54L89.33 558.48" stroke="#fff" stroke-width="1.1"/><path d="M98.68 565.02L91.75 567.89" stroke="#fff" stroke-width="2.1"/><path d="M101.63 575.47L96.69 576.25" stroke="#fff" stroke-width="1.1"/><path d="M102.06 586.32L97.07 585.93" stroke="#fff" stroke-width="1.1"/><path d="M99.94 596.98L95.18 595.43" stroke="#fff" stroke-width="1.1"/><path d="M95.39 606.84L91.13 604.23" stroke="#fff" stroke-width="1.1"/><path d="M88.67 615.37L83.37 610.07" stroke="#fff" stroke-width="2.1"/><text x="56.5" y="554.6" font-family="Liberation Sans, sans-serif" font-size="9.2" fill="#fff" text-anchor="middle">0</text><path d="M52 580.7 L55.4 544.5 L57 544.5 L60.2 580.7Z" fill="#1c1cff"/><circle cx="55.6" cy="583.0" r="7.6" fill="url(#hub)"/><text x="23.2" y="576.8" font-family="Liberation Sans, sans-serif" font-size="9.2" fill="#fff" text-anchor="start">-1000</text><text x="69.7" y="576.8" font-family="Liberation Sans, sans-serif" font-size="9.2" fill="#fff" text-anchor="start">1000</text><text x="29.3" y="602.3" font-family="Liberation Sans, sans-serif" font-size="9.2" fill="#fff" text-anchor="start">-2000</text><text x="62.8" y="602.6" font-family="Liberation Sans, sans-serif" font-size="9.2" fill="#fff" text-anchor="start">2000</text><text x="56.5" y="624.5" font-family="Liberation Sans, sans-serif" font-size="16.5" fill="#fff" text-anchor="middle" font-weight="bold">3</text></svg>
<div class="a" style="left:2px;top:657px;width:195px;height:12px;background:#f0f0f0;border-top:1px solid #e0e0e0"></div>
<div class="a" style="left:20px;top:658px;width:139px;height:12px;border:1px solid #979797;border-radius:2px;background:linear-gradient(#f4f4f4,#e6e6e6 45%,#d4d4d4 50%,#c8c8c8)"></div>
<svg class="a" style="left:6px;top:660px" width="190" height="8"><path d="M6.5 1 L6.5 8 L2 5z" fill="#404040"/><path d="M179.5 1 L179.5 8 L184 5z" fill="#404040"/><path d="M80.5 2v6M83.5 2v6M86.5 2v6" stroke="#505050" stroke-width="1"/></svg>
<div class="a" style="left:205px;top:95px;width:960px;height:580px;border:1px solid #9c9c9c;border-radius:3px 0 0 0;background:#fff"></div>
<div class="a" style="left:308px;top:96px;width:849px;height:23px;background:#f0f0f0;border-left:1px solid #a0a0a0;border-bottom:1px solid #a0a0a0"></div>
<div class="a" style="left:416px;top:96px;width:1px;height:22px;background:#a0a0a0"></div>
<div class="tb" style="letter-spacing:-0.125px;left:228.9px;top:99.5px">Registers</div>
<div class="tb" style="letter-spacing:0.270px;left:332.3px;top:99.5px">Data Memory</div>
<div class="a" style="left:208px;top:119px;width:949px;height:53px;background:linear-gradient(#ffffff 0%,#fbfcfe 22%,#eef2f8 62%,#e1e8f3 100%)"></div>
<div class="a" style="left:208px;top:172px;width:949px;height:1px;background:#b5c8e2"></div>
<div class="t b" style="letter-spacing:-0.069px;left:214.3px;top:128px;font-size:16px;line-height:18px;height:18px;color:#1f4d87">Registers</div>
<div class="tb" style="letter-spacing:0.093px;left:981.3px;top:146px">Start Log</div>
<div class="tb" style="letter-spacing:-0.635px;left:1064.7px;top:146px">Scan</div>
<div class="tb" style="letter-spacing:-0.119px;left:1102.6px;top:146px">Refresh</div>
<svg class="a" style="left:207px;top:98px" width="18" height="18" viewBox="207 98 18 18"><g transform="translate(215.4 106.9) rotate(8) scale(6.5 7.7)"><path d="M0.97 0.07 L0.95 0.21 L0.74 0.25 L0.69 0.37 L0.80 0.55 L0.71 0.66 L0.52 0.59 L0.41 0.66 L0.42 0.87 L0.29 0.93 L0.15 0.76 L0.02 0.78 L-0.07 0.97 L-0.21 0.95 L-0.25 0.74 L-0.37 0.69 L-0.55 0.80 L-0.66 0.71 L-0.59 0.52 L-0.66 0.41 L-0.87 0.42 L-0.93 0.29 L-0.76 0.15 L-0.78 0.02 L-0.97 -0.07 L-0.95 -0.21 L-0.74 -0.25 L-0.69 -0.37 L-0.80 -0.55 L-0.71 -0.66 L-0.52 -0.59 L-0.41 -0.66 L-0.42 -0.87 L-0.29 -0.93 L-0.15 -0.76 L-0.02 -0.78 L0.07 -0.97 L0.21 -0.95 L0.25 -0.74 L0.37 -0.69 L0.55 -0.80 L0.66 -0.71 L0.59 -0.52 L0.66 -0.41 L0.87 -0.42 L0.93 -0.29 L0.76 -0.15 L0.78 -0.02Z" fill="url(#gg)" stroke="#9fb6ce" stroke-width="0.06" stroke-linejoin="round"/><ellipse cx="-0.02" cy="-0.02" rx="0.40" ry="0.50" fill="#f6f7f8" stroke="#7f9dc4" stroke-width="0.1" transform="rotate(-14)"/></g></svg>
<svg class="a" style="left:290px;top:101px" width="13" height="13" viewBox="290 101 13 13"><path d="M291.5 104.3 L293.3 102.5 L296 105.2 L298.8 102.5 L300.6 104.3 L297.9 107 L300.6 109.7 L298.8 111.5 L296 108.8 L293.3 111.5 L291.5 109.7 L294.2 107Z" fill="#fff" stroke="#4c4c4c" stroke-width="1.1" stroke-linejoin="miter"/></svg>
<svg class="a" style="left:311px;top:100px" width="20" height="14" viewBox="311 100 20 14"><defs><linearGradient id="sc" x1="0" y1="0" x2="0" y2="1"><stop offset="0" stop-color="#6a6a6a"/><stop offset="1" stop-color="#2a2a2a"/></linearGradient></defs><path d="M317 103.3 L327.6 105.2 L327.6 107.4 L323.2 110 L313.2 107.6 L313.2 105.4Z" fill="url(#sc)"/><path d="M314 107.8v2M316 108.3v2M318 108.8v2M320 109.3v2M322 109.8v1.6" stroke="#b8bcc4" stroke-width="0.8" opacity="0.8"/></svg>
<svg class="a" style="left:136px;top:99px" width="56" height="14" viewBox="136 99 56 14"><path d="M137.5 102.3 H146.5 L142 107Z" fill="#fafafa" stroke="#606060" stroke-width="0.9" stroke-linejoin="round"/><rect x="157" y="101.2" width="9.6" height="3.6" fill="#fafafa" stroke="#606060" stroke-width="0.9"/><rect x="180.4" y="101.2" width="9.4" height="9.4" fill="#fafafa" stroke="#606060" stroke-width="0.9"/><path d="M180.4 103.4h9.4" stroke="#606060" stroke-width="0.9"/></svg>
<svg class="a" style="left:1116px;top:99px" width="40" height="14" viewBox="1116 99 40 14"><rect x="1119" y="101.2" width="9.8" height="3.6" fill="#fafafa" stroke="#606060" stroke-width="0.9"/><rect x="1142" y="101.2" width="9.8" height="9.2" fill="#fafafa" stroke="#606060" stroke-width="0.9"/><path d="M1142 103.4h9.8" stroke="#606060" stroke-width="0.9"/></svg>
<svg class="a" style="left:995px;top:122px" width="30" height="30" viewBox="995 122 30 30"><defs><linearGradient id="sl" x1="0" y1="0" x2="1" y2="1"><stop offset="0" stop-color="#e8efd8"/><stop offset="1" stop-color="#cdd6c0"/></linearGradient></defs><rect x="1001.07" y="128.63" width="15.0" height="14.89" fill="url(#sl)"/><path d="M 1001.18 128.63 L 1001.18 143.52 L 1016.07 143.52" fill="none" stroke="#8a8a8a" stroke-width="0.8"/><polygon points="1005.39,130.71 1014.66,130.71 1014.66,140.26 1005.39,140.26" fill="#bfe4b0" stroke="#4a8a4a" stroke-width="0.7"/><polygon points="1005.96,138.29 1011.85,138.29 1011.85,140.26 1005.96,140.26" fill="#f4f4ec"/><polygon points="1007.92,129.75 1011.85,129.75 1011.85,132.0 1007.92,132.0" fill="#e8d84c"/><path d="M 1009.33 133.52 L 1013.26 133.52 M 1009.33 135.48 L 1013.26 135.48 M 1009.33 137.28 L 1013.26 137.28" stroke="#58b058" stroke-width="0.9"/><path d="M 1001.63 130.43 L 1008.03 138.01" stroke="#1e5a2e" stroke-width="1.7"/><polygon points="1007.08,136.72 1008.76,138.29 1006.52,138.4" fill="#222"/></svg>
<svg class="a" style="left:1046px;top:141px" width="12" height="8" viewBox="1046 141 12 8"><path d="M1047.7 143 H1055.3 L1051.5 147.1Z" fill="#111"/></svg>
<svg class="a" style="left:1070px;top:127px" width="18" height="18" viewBox="1070 127 18 18"><circle cx="1079" cy="135.8" r="6.9" fill="#aeaeae"/><circle cx="1079" cy="135.8" r="5.7" fill="#dedede"/><circle cx="1079" cy="135.8" r="4.7" fill="#b2b2b2"/><circle cx="1079" cy="135.8" r="3.6" fill="#e0e0e0"/><circle cx="1079" cy="135.8" r="2.6" fill="#b6b6b6"/><circle cx="1079" cy="135.8" r="1.4" fill="#dadada"/><path d="M1079 135.8 L1073.4 132.4 A6.5 6.5 0 0 1 1076.2 129.9Z" fill="#3c3c3c" opacity="0.8"/></svg>
<svg class="a" style="left:1114px;top:127px" width="22" height="18" viewBox="1114 127 22 18"><path d="M 1118.44 134.1 C 1120.86 129.26 1126.39 128.92 1129.16 131.34 L 1130.89 129.95 L 1131.09 134.79 L 1126.04 134.79 L 1127.43 133.07 C 1125.35 131.68 1122.59 132.37 1121.55 134.79 Z" fill="#1f9a24" stroke="#177a1c" stroke-width="0.4" stroke-linejoin="round"/><g transform="rotate(180 1124.45 135.83)"><path d="M 1118.44 134.1 C 1120.86 129.26 1126.39 128.92 1129.16 131.34 L 1130.89 129.95 L 1131.09 134.79 L 1126.04 134.79 L 1127.43 133.07 C 1125.35 131.68 1122.59 132.37 1121.55 134.79 Z" fill="#1f9a24" stroke="#177a1c" stroke-width="0.4" stroke-linejoin="round"/></g></svg>
<div class="a" style="left:210px;top:175px;width:946px;height:24px;border-top:1px solid #b9c9e0;border-left:1px solid #d5deec;border-radius:5px 4px 0 0;background:linear-gradient(#dfe7f4 0px,#e6ecf6 3px,#ffffff 21px,#fff 100%)"></div>
<div class="t b" style="left:216px;top:180px;font-size:12px;line-height:15px;color:#1b4681;letter-spacing:0.2px">Registers</div>
<div class="a" style="left:216px;top:214px;width:936px;height:199px;border:1px solid #cfdbe8;border-radius:4px;background:#fff"></div>
<div class="a" style="left:224px;top:226px;width:301px;height:182px;overflow:hidden">
<div class="a" style="left:0;top:0;width:283px;height:22px;background:linear-gradient(#ffffff 0px,#ffffff 8px,#f7f8fa 9px,#eff0f3 21px);border-bottom:1px solid #d0d0d0"></div>
<div class="a" style="left:171px;top:0;width:1px;height:21px;background:#e2e3ea"></div>
<div class="a" style="left:240px;top:0;width:1px;height:21px;background:#e2e3ea"></div>
<div class="a" style="left:282px;top:0;width:1px;height:21px;background:#e2e3ea"></div>
<div class="hd" style="left:6px;top:5px">Name</div>
<div class="hd" style="left:172px;top:5px;width:68px;text-align:center">Value</div>
<div class="hd" style="left:241px;top:5px;width:41px;text-align:center">Units</div>
<div class="a" style="left:0;top:22px;width:283px;height:160px;background:#f5f5f5"></div>
<div class="a" style="left:0;top:41px;width:283px;height:1px;background:#ebebeb"></div>
<div class="a" style="left:173px;top:25px;width:67px;height:15px;background:linear-gradient(#fafafa,#e4e4e4)"></div>
<svg class="a" style="left:6.2px;top:25.4px" width="15" height="16" viewBox="0 0 15 16"><rect x="0.5" y="0.5" width="11" height="14.6" rx="1.3" fill="url(#eg)" stroke="#c2c2c2"/><path d="M3.2 12.4 L13.2 2.2" stroke="#262626" stroke-width="1.05"/><path d="M3.2 12.4 L6.6 9.6" stroke="#999" stroke-width="0.7" transform="translate(1.2 0.6)"/></svg>
<div class="rowt" style="left:22px;top:25.5px"><span style="letter-spacing:-0.17px">Manufacturer Access</span></div>
<div class="rowt rowv" style="left:170.8px;top:25.5px;width:68px;text-align:center">0x6181</div>
<div class="rowt rowv" style="left:239.6px;top:25.5px;width:41px;text-align:center">hex</div>
<div class="a" style="left:0;top:59px;width:283px;height:1px;background:#ebebeb"></div>
<svg class="a" style="left:6.2px;top:43.4px" width="15" height="16" viewBox="0 0 15 16"><rect x="0.5" y="0.5" width="11" height="14.6" rx="1.3" fill="url(#eg)" stroke="#c2c2c2"/><path d="M3.2 12.4 L13.2 2.2" stroke="#262626" stroke-width="1.05"/><path d="M3.2 12.4 L6.6 9.6" stroke="#999" stroke-width="0.7" transform="translate(1.2 0.6)"/></svg>
<div class="rowt" style="left:22px;top:43.5px">Remaining Cap. Alarm</div>
<div class="rowt rowv" style="left:170.8px;top:43.5px;width:68px;text-align:center">300</div>
<div class="rowt rowv" style="left:239.6px;top:43.5px;width:41px;text-align:center">mAh</div>
<div class="a" style="left:0;top:77px;width:283px;height:1px;background:#ebebeb"></div>
<svg class="a" style="left:6.2px;top:61.4px" width="15" height="16" viewBox="0 0 15 16"><rect x="0.5" y="0.5" width="11" height="14.6" rx="1.3" fill="url(#eg)" stroke="#c2c2c2"/><path d="M3.2 12.4 L13.2 2.2" stroke="#262626" stroke-width="1.05"/><path d="M3.2 12.4 L6.6 9.6" stroke="#999" stroke-width="0.7" transform="translate(1.2 0.6)"/></svg>
<div class="rowt" style="left:22px;top:61.5px">Remaining Time Alarm</div>
<div class="rowt rowv" style="left:170.8px;top:61.5px;width:68px;text-align:center">10</div>
<div class="rowt rowv" style="left:239.6px;top:61.5px;width:41px;text-align:center">min</div>
<div class="a" style="left:0;top:95px;width:283px;height:1px;background:#ebebeb"></div>
<svg class="a" style="left:6.2px;top:79.4px" width="15" height="16" viewBox="0 0 15 16"><rect x="0.5" y="0.5" width="11" height="14.6" rx="1.3" fill="url(#eg)" stroke="#c2c2c2"/><path d="M3.2 12.4 L13.2 2.2" stroke="#262626" stroke-width="1.05"/><path d="M3.2 12.4 L6.6 9.6" stroke="#999" stroke-width="0.7" transform="translate(1.2 0.6)"/></svg>
<div class="rowt" style="left:22px;top:79.5px">At Rate</div>
<div class="rowt rowv" style="left:170.8px;top:79.5px;width:68px;text-align:center">0</div>
<div class="rowt rowv" style="left:239.6px;top:79.5px;width:41px;text-align:center">mA</div>
<div class="a" style="left:0;top:113px;width:283px;height:1px;background:#ebebeb"></div>
<svg class="a" style="left:4.3px;top:97.4px" width="16" height="16" viewBox="0 0 16 16"><rect x="0.5" y="0.5" width="14.6" height="14.2" rx="1.6" fill="#fbfbfb" stroke="#707070" stroke-width="1"/><rect x="2" y="2" width="11.6" height="11.2" fill="#e9e9e9"/><path d="M5.6 7.6V6a2 2 0 0 1 4.2 0V7.6" fill="none" stroke="#a6a6a6" stroke-width="1.3"/><rect x="3.7" y="6.9" width="8" height="4.7" rx="0.9" fill="#a4a4a4"/></svg>
<div class="rowt" style="left:22px;top:97.5px">At Rate Time To Full</div>
<div class="rowt rowv" style="left:170.8px;top:97.5px;width:68px;text-align:center">65535</div>
<div class="rowt rowv" style="left:239.6px;top:97.5px;width:41px;text-align:center">min</div>
<div class="a" style="left:0;top:131px;width:283px;height:1px;background:#ebebeb"></div>
<svg class="a" style="left:4.3px;top:115.4px" width="16" height="16" viewBox="0 0 16 16"><rect x="0.5" y="0.5" width="14.6" height="14.2" rx="1.6" fill="#fbfbfb" stroke="#707070" stroke-width="1"/><rect x="2" y="2" width="11.6" height="11.2" fill="#e9e9e9"/><path d="M5.6 7.6V6a2 2 0 0 1 4.2 0V7.6" fill="none" stroke="#a6a6a6" stroke-width="1.3"/><rect x="3.7" y="6.9" width="8" height="4.7" rx="0.9" fill="#a4a4a4"/></svg>
<div class="rowt" style="left:22px;top:115.5px">At Rate Time To Empty</div>
<div class="rowt rowv" style="left:170.8px;top:115.5px;width:68px;text-align:center">65535</div>
<div class="rowt rowv" style="left:239.6px;top:115.5px;width:41px;text-align:center">min</div>
<div class="a" style="left:0;top:149px;width:283px;height:1px;background:#ebebeb"></div>
<svg class="a" style="left:4.3px;top:133.4px" width="16" height="16" viewBox="0 0 16 16"><rect x="0.5" y="0.5" width="14.6" height="14.2" rx="1.6" fill="#fbfbfb" stroke="#707070" stroke-width="1"/><rect x="2" y="2" width="11.6" height="11.2" fill="#e9e9e9"/><path d="M5.6 7.6V6a2 2 0 0 1 4.2 0V7.6" fill="none" stroke="#a6a6a6" stroke-width="1.3"/><rect x="3.7" y="6.9" width="8" height="4.7" rx="0.9" fill="#a4a4a4"/></svg>
<div class="rowt" style="left:22px;top:133.5px">At Rate OK</div>
<div class="rowt rowv" style="left:170.8px;top:133.5px;width:68px;text-align:center">1</div>
<div class="rowt rowv" style="left:239.6px;top:133.5px;width:41px;text-align:center">-</div>
<div class="a" style="left:0;top:167px;width:283px;height:1px;background:#ebebeb"></div>
<svg class="a" style="left:4.3px;top:151.4px" width="16" height="16" viewBox="0 0 16 16"><rect x="0.5" y="0.5" width="14.6" height="14.2" rx="1.6" fill="#fbfbfb" stroke="#707070" stroke-width="1"/><rect x="2" y="2" width="11.6" height="11.2" fill="#e9e9e9"/><path d="M5.6 7.6V6a2 2 0 0 1 4.2 0V7.6" fill="none" stroke="#a6a6a6" stroke-width="1.3"/><rect x="3.7" y="6.9" width="8" height="4.7" rx="0.9" fill="#a4a4a4"/></svg>
<div class="rowt" style="left:22px;top:151.5px">Temperature</div>
<div class="rowt rowv" style="left:170.8px;top:151.5px;width:68px;text-align:center">21.6</div>
<div class="rowt rowv" style="left:239.6px;top:151.5px;width:41px;text-align:center">degC</div>
<div class="a" style="left:0;top:185px;width:283px;height:1px;background:#ebebeb"></div>
<svg class="a" style="left:4.3px;top:169.4px" width="16" height="16" viewBox="0 0 16 16"><rect x="0.5" y="0.5" width="14.6" height="14.2" rx="1.6" fill="#fbfbfb" stroke="#707070" stroke-width="1"/><rect x="2" y="2" width="11.6" height="11.2" fill="#e9e9e9"/><path d="M5.6 7.6V6a2 2 0 0 1 4.2 0V7.6" fill="none" stroke="#a6a6a6" stroke-width="1.3"/><rect x="3.7" y="6.9" width="8" height="4.7" rx="0.9" fill="#a4a4a4"/></svg>
<div class="rowt" style="left:22px;top:169.5px">Voltage</div>
<div class="rowt rowv" style="left:170.8px;top:169.5px;width:68px;text-align:center">7653</div>
<div class="rowt rowv" style="left:239.6px;top:169.5px;width:41px;text-align:center">mV</div>
<div class="a" style="left:171px;top:22px;width:1px;height:160px;background:#efefef"></div>
<div class="a" style="left:240px;top:22px;width:1px;height:160px;background:#efefef"></div>
<div class="a" style="left:284px;top:0px;width:16px;height:182px;background:#f2f2f2"></div><div class="a" style="left:284.5px;top:18.5px;width:14.5px;height:67px;border:1px solid #979797;border-radius:2px;background:linear-gradient(90deg,#f6f6f6,#e9e9e9 45%,#d6d6d6 50%,#cbcbcb 85%,#dadada)"></div><svg class="a" style="left:284px;top:0px" width="16" height="182"><path d="M4.5 11 l3.5 -4 l3.5 4z" fill="#404040"/><path d="M4.3 49.5h7.4M4.3 52.5h7.4M4.3 55.5h7.4" stroke="#585858" stroke-width="1.1"/><path d="M4.3 50.5h7.4M4.3 53.5h7.4M4.3 56.5h7.4" stroke="#f4f4f4" stroke-width="0.9"/><path d="M4.5 173 l3.5 4 l3.5 -4z" fill="#404040"/></svg>
</div>
<div class="a" style="left:534px;top:226px;width:301px;height:182px;overflow:hidden">
<div class="a" style="left:0;top:0;width:283px;height:22px;background:linear-gradient(#ffffff 0px,#ffffff 8px,#f7f8fa 9px,#eff0f3 21px);border-bottom:1px solid #d0d0d0"></div>
<div class="a" style="left:171px;top:0;width:1px;height:21px;background:#e2e3ea"></div>
<div class="a" style="left:240px;top:0;width:1px;height:21px;background:#e2e3ea"></div>
<div class="a" style="left:282px;top:0;width:1px;height:21px;background:#e2e3ea"></div>
<div class="hd" style="left:6px;top:5px">Name</div>
<div class="hd" style="left:172px;top:5px;width:68px;text-align:center">Value</div>
<div class="hd" style="left:241px;top:5px;width:41px;text-align:center">Units</div>
<div class="a" style="left:0;top:22px;width:283px;height:160px;background:#f5f5f5"></div>
<div class="a" style="left:0;top:41px;width:283px;height:1px;background:#ebebeb"></div>
<svg class="a" style="left:4.3px;top:25.4px" width="16" height="16" viewBox="0 0 16 16"><rect x="0.5" y="0.5" width="14.6" height="14.2" rx="1.6" fill="#fbfbfb" stroke="#707070" stroke-width="1"/><rect x="2" y="2" width="11.6" height="11.2" fill="#e9e9e9"/><path d="M5.6 7.6V6a2 2 0 0 1 4.2 0V7.6" fill="none" stroke="#a6a6a6" stroke-width="1.3"/><rect x="3.7" y="6.9" width="8" height="4.7" rx="0.9" fill="#a4a4a4"/></svg>
<div class="rowt" style="left:22px;top:25.5px">Run time To Empty</div>
<div class="rowt rowv" style="left:170.8px;top:25.5px;width:68px;text-align:center">65535</div>
<div class="rowt rowv" style="left:239.6px;top:25.5px;width:41px;text-align:center">min</div>
<div class="a" style="left:0;top:59px;width:283px;height:1px;background:#ebebeb"></div>
<svg class="a" style="left:4.3px;top:43.4px" width="16" height="16" viewBox="0 0 16 16"><rect x="0.5" y="0.5" width="14.6" height="14.2" rx="1.6" fill="#fbfbfb" stroke="#707070" stroke-width="1"/><rect x="2" y="2" width="11.6" height="11.2" fill="#e9e9e9"/><path d="M5.6 7.6V6a2 2 0 0 1 4.2 0V7.6" fill="none" stroke="#a6a6a6" stroke-width="1.3"/><rect x="3.7" y="6.9" width="8" height="4.7" rx="0.9" fill="#a4a4a4"/></svg>
<div class="rowt" style="left:22px;top:43.5px">Average Time to Empty</div>
<div class="rowt rowv" style="left:170.8px;top:43.5px;width:68px;text-align:center">65535</div>
<div class="rowt rowv" style="left:239.6px;top:43.5px;width:41px;text-align:center">min</div>
<div class="a" style="left:0;top:77px;width:283px;height:1px;background:#ebebeb"></div>
<svg class="a" style="left:4.3px;top:61.4px" width="16" height="16" viewBox="0 0 16 16"><rect x="0.5" y="0.5" width="14.6" height="14.2" rx="1.6" fill="#fbfbfb" stroke="#707070" stroke-width="1"/><rect x="2" y="2" width="11.6" height="11.2" fill="#e9e9e9"/><path d="M5.6 7.6V6a2 2 0 0 1 4.2 0V7.6" fill="none" stroke="#a6a6a6" stroke-width="1.3"/><rect x="3.7" y="6.9" width="8" height="4.7" rx="0.9" fill="#a4a4a4"/></svg>
<div class="rowt" style="left:22px;top:61.5px">Average Time to Full</div>
<div class="rowt rowv" style="left:170.8px;top:61.5px;width:68px;text-align:center">56040</div>
<div class="rowt rowv" style="left:239.6px;top:61.5px;width:41px;text-align:center">min</div>
<div class="a" style="left:0;top:95px;width:283px;height:1px;background:#ebebeb"></div>
<svg class="a" style="left:4.3px;top:79.4px" width="16" height="16" viewBox="0 0 16 16"><rect x="0.5" y="0.5" width="14.6" height="14.2" rx="1.6" fill="#fbfbfb" stroke="#707070" stroke-width="1"/><rect x="2" y="2" width="11.6" height="11.2" fill="#e9e9e9"/><path d="M5.6 7.6V6a2 2 0 0 1 4.2 0V7.6" fill="none" stroke="#a6a6a6" stroke-width="1.3"/><rect x="3.7" y="6.9" width="8" height="4.7" rx="0.9" fill="#a4a4a4"/></svg>
<div class="rowt" style="left:22px;top:79.5px">Charging Current</div>
<div class="rowt rowv" style="left:170.8px;top:79.5px;width:68px;text-align:center">0</div>
<div class="rowt rowv" style="left:239.6px;top:79.5px;width:41px;text-align:center">mA</div>
<div class="a" style="left:0;top:113px;width:283px;height:1px;background:#ebebeb"></div>
<svg class="a" style="left:4.3px;top:97.4px" width="16" height="16" viewBox="0 0 16 16"><rect x="0.5" y="0.5" width="14.6" height="14.2" rx="1.6" fill="#fbfbfb" stroke="#707070" stroke-width="1"/><rect x="2" y="2" width="11.6" height="11.2" fill="#e9e9e9"/><path d="M5.6 7.6V6a2 2 0 0 1 4.2 0V7.6" fill="none" stroke="#a6a6a6" stroke-width="1.3"/><rect x="3.7" y="6.9" width="8" height="4.7" rx="0.9" fill="#a4a4a4"/></svg>
<div class="rowt" style="left:22px;top:97.5px">Charging Voltage</div>
<div class="rowt rowv" style="left:170.8px;top:97.5px;width:68px;text-align:center">0</div>
<div class="rowt rowv" style="left:239.6px;top:97.5px;width:41px;text-align:center">mV</div>
<div class="a" style="left:0;top:131px;width:283px;height:1px;background:#ebebeb"></div>
<svg class="a" style="left:4.3px;top:115.4px" width="16" height="16" viewBox="0 0 16 16"><rect x="0.5" y="0.5" width="14.6" height="14.2" rx="1.6" fill="#fbfbfb" stroke="#707070" stroke-width="1"/><rect x="2" y="2" width="11.6" height="11.2" fill="#e9e9e9"/><path d="M5.6 7.6V6a2 2 0 0 1 4.2 0V7.6" fill="none" stroke="#a6a6a6" stroke-width="1.3"/><rect x="3.7" y="6.9" width="8" height="4.7" rx="0.9" fill="#a4a4a4"/></svg>
<div class="rowt" style="left:22px;top:115.5px">Cycle Count</div>
<div class="rowt rowv" style="left:170.8px;top:115.5px;width:68px;text-align:center">0</div>
<div class="rowt rowv" style="left:239.6px;top:115.5px;width:41px;text-align:center">-</div>
<div class="a" style="left:0;top:149px;width:283px;height:1px;background:#ebebeb"></div>
<svg class="a" style="left:4.3px;top:133.4px" width="16" height="16" viewBox="0 0 16 16"><rect x="0.5" y="0.5" width="14.6" height="14.2" rx="1.6" fill="#fbfbfb" stroke="#707070" stroke-width="1"/><rect x="2" y="2" width="11.6" height="11.2" fill="#e9e9e9"/><path d="M5.6 7.6V6a2 2 0 0 1 4.2 0V7.6" fill="none" stroke="#a6a6a6" stroke-width="1.3"/><rect x="3.7" y="6.9" width="8" height="4.7" rx="0.9" fill="#a4a4a4"/></svg>
<div class="rowt" style="left:22px;top:133.5px">Cell 1 Voltage</div>
<div class="rowt rowv" style="left:170.8px;top:133.5px;width:68px;text-align:center">3827</div>
<div class="rowt rowv" style="left:239.6px;top:133.5px;width:41px;text-align:center">mV</div>
<div class="a" style="left:0;top:167px;width:283px;height:1px;background:#ebebeb"></div>
<svg class="a" style="left:4.3px;top:151.4px" width="16" height="16" viewBox="0 0 16 16"><rect x="0.5" y="0.5" width="14.6" height="14.2" rx="1.6" fill="#fbfbfb" stroke="#707070" stroke-width="1"/><rect x="2" y="2" width="11.6" height="11.2" fill="#e9e9e9"/><path d="M5.6 7.6V6a2 2 0 0 1 4.2 0V7.6" fill="none" stroke="#a6a6a6" stroke-width="1.3"/><rect x="3.7" y="6.9" width="8" height="4.7" rx="0.9" fill="#a4a4a4"/></svg>
<div class="rowt" style="left:22px;top:151.5px">Cell 2 Voltage</div>
<div class="rowt rowv" style="left:170.8px;top:151.5px;width:68px;text-align:center">3826</div>
<div class="rowt rowv" style="left:239.6px;top:151.5px;width:41px;text-align:center">mV</div>
<div class="a" style="left:0;top:185px;width:283px;height:1px;background:#ebebeb"></div>
<svg class="a" style="left:4.3px;top:169.4px" width="16" height="16" viewBox="0 0 16 16"><rect x="0.5" y="0.5" width="14.6" height="14.2" rx="1.6" fill="#fbfbfb" stroke="#707070" stroke-width="1"/><rect x="2" y="2" width="11.6" height="11.2" fill="#e9e9e9"/><path d="M5.6 7.6V6a2 2 0 0 1 4.2 0V7.6" fill="none" stroke="#a6a6a6" stroke-width="1.3"/><rect x="3.7" y="6.9" width="8" height="4.7" rx="0.9" fill="#a4a4a4"/></svg>
<div class="rowt" style="left:22px;top:169.5px">Cell 3 Voltage</div>
<div class="rowt rowv" style="left:170.8px;top:169.5px;width:68px;text-align:center">0</div>
<div class="rowt rowv" style="left:239.6px;top:169.5px;width:41px;text-align:center">mV</div>
<div class="a" style="left:171px;top:22px;width:1px;height:160px;background:#efefef"></div>
<div class="a" style="left:240px;top:22px;width:1px;height:160px;background:#efefef"></div>
<div class="a" style="left:284px;top:0px;width:16px;height:182px;background:#f2f2f2"></div><div class="a" style="left:284.5px;top:18.5px;width:14.5px;height:67px;border:1px solid #979797;border-radius:2px;background:linear-gradient(90deg,#f6f6f6,#e9e9e9 45%,#d6d6d6 50%,#cbcbcb 85%,#dadada)"></div><svg class="a" style="left:284px;top:0px" width="16" height="182"><path d="M4.5 11 l3.5 -4 l3.5 4z" fill="#404040"/><path d="M4.3 49.5h7.4M4.3 52.5h7.4M4.3 55.5h7.4" stroke="#585858" stroke-width="1.1"/><path d="M4.3 50.5h7.4M4.3 53.5h7.4M4.3 56.5h7.4" stroke="#f4f4f4" stroke-width="0.9"/><path d="M4.5 173 l3.5 4 l3.5 -4z" fill="#404040"/></svg>
</div>
<div class="a" style="left:844px;top:226px;width:301px;height:182px;overflow:hidden">
<div class="a" style="left:0;top:0;width:283px;height:22px;background:linear-gradient(#ffffff 0px,#ffffff 8px,#f7f8fa 9px,#eff0f3 21px);border-bottom:1px solid #d0d0d0"></div>
<div class="a" style="left:171px;top:0;width:1px;height:21px;background:#e2e3ea"></div>
<div class="a" style="left:240px;top:0;width:1px;height:21px;background:#e2e3ea"></div>
<div class="a" style="left:282px;top:0;width:1px;height:21px;background:#e2e3ea"></div>
<div class="hd" style="left:6px;top:5px">Name</div>
<div class="hd" style="left:172px;top:5px;width:68px;text-align:center">Value</div>
<div class="hd" style="left:241px;top:5px;width:41px;text-align:center">Units</div>
<div class="a" style="left:0;top:22px;width:283px;height:160px;background:#f5f5f5"></div>
<div class="a" style="left:0;top:41px;width:283px;height:1px;background:#ebebeb"></div>
<svg class="a" style="left:4.3px;top:25.4px" width="16" height="16" viewBox="0 0 16 16"><rect x="0.5" y="0.5" width="14.6" height="14.2" rx="1.6" fill="#fbfbfb" stroke="#707070" stroke-width="1"/><rect x="2" y="2" width="11.6" height="11.2" fill="#e9e9e9"/><path d="M5.6 7.6V6a2 2 0 0 1 4.2 0V7.6" fill="none" stroke="#a6a6a6" stroke-width="1.3"/><rect x="3.7" y="6.9" width="8" height="4.7" rx="0.9" fill="#a4a4a4"/></svg>
<div class="rowt" style="left:22px;top:25.5px">Cell 2 Power</div>
<div class="rowt rowv" style="left:170.8px;top:25.5px;width:68px;text-align:center">-2</div>
<div class="rowt rowv" style="left:239.6px;top:25.5px;width:41px;text-align:center">cW</div>
<div class="a" style="left:0;top:59px;width:283px;height:1px;background:#ebebeb"></div>
<svg class="a" style="left:4.3px;top:43.4px" width="16" height="16" viewBox="0 0 16 16"><rect x="0.5" y="0.5" width="14.6" height="14.2" rx="1.6" fill="#fbfbfb" stroke="#707070" stroke-width="1"/><rect x="2" y="2" width="11.6" height="11.2" fill="#e9e9e9"/><path d="M5.6 7.6V6a2 2 0 0 1 4.2 0V7.6" fill="none" stroke="#a6a6a6" stroke-width="1.3"/><rect x="3.7" y="6.9" width="8" height="4.7" rx="0.9" fill="#a4a4a4"/></svg>
<div class="rowt" style="left:22px;top:43.5px">Cell 3 Power</div>
<div class="rowt rowv" style="left:170.8px;top:43.5px;width:68px;text-align:center">0</div>
<div class="rowt rowv" style="left:239.6px;top:43.5px;width:41px;text-align:center">cW</div>
<div class="a" style="left:0;top:77px;width:283px;height:1px;background:#ebebeb"></div>
<svg class="a" style="left:4.3px;top:61.4px" width="16" height="16" viewBox="0 0 16 16"><rect x="0.5" y="0.5" width="14.6" height="14.2" rx="1.6" fill="#fbfbfb" stroke="#707070" stroke-width="1"/><rect x="2" y="2" width="11.6" height="11.2" fill="#e9e9e9"/><path d="M5.6 7.6V6a2 2 0 0 1 4.2 0V7.6" fill="none" stroke="#a6a6a6" stroke-width="1.3"/><rect x="3.7" y="6.9" width="8" height="4.7" rx="0.9" fill="#a4a4a4"/></svg>
<div class="rowt" style="left:22px;top:61.5px">Cell 4 Power</div>
<div class="rowt rowv" style="left:170.8px;top:61.5px;width:68px;text-align:center">0</div>
<div class="rowt rowv" style="left:239.6px;top:61.5px;width:41px;text-align:center">cW</div>
<div class="a" style="left:0;top:95px;width:283px;height:1px;background:#ebebeb"></div>
<svg class="a" style="left:4.3px;top:79.4px" width="16" height="16" viewBox="0 0 16 16"><rect x="0.5" y="0.5" width="14.6" height="14.2" rx="1.6" fill="#fbfbfb" stroke="#707070" stroke-width="1"/><rect x="2" y="2" width="11.6" height="11.2" fill="#e9e9e9"/><path d="M5.6 7.6V6a2 2 0 0 1 4.2 0V7.6" fill="none" stroke="#a6a6a6" stroke-width="1.3"/><rect x="3.7" y="6.9" width="8" height="4.7" rx="0.9" fill="#a4a4a4"/></svg>
<div class="rowt" style="left:22px;top:79.5px">Power</div>
<div class="rowt rowv" style="left:170.8px;top:79.5px;width:68px;text-align:center">3</div>
<div class="rowt rowv" style="left:239.6px;top:79.5px;width:41px;text-align:center">cW</div>
<div class="a" style="left:0;top:113px;width:283px;height:1px;background:#ebebeb"></div>
<svg class="a" style="left:4.3px;top:97.4px" width="16" height="16" viewBox="0 0 16 16"><rect x="0.5" y="0.5" width="14.6" height="14.2" rx="1.6" fill="#fbfbfb" stroke="#707070" stroke-width="1"/><rect x="2" y="2" width="11.6" height="11.2" fill="#e9e9e9"/><path d="M5.6 7.6V6a2 2 0 0 1 4.2 0V7.6" fill="none" stroke="#a6a6a6" stroke-width="1.3"/><rect x="3.7" y="6.9" width="8" height="4.7" rx="0.9" fill="#a4a4a4"/></svg>
<div class="rowt" style="left:22px;top:97.5px">Average Power</div>
<div class="rowt rowv" style="left:170.8px;top:97.5px;width:68px;text-align:center">2</div>
<div class="rowt rowv" style="left:239.6px;top:97.5px;width:41px;text-align:center">cW</div>
<div class="a" style="left:0;top:131px;width:283px;height:1px;background:#ebebeb"></div>
<svg class="a" style="left:4.3px;top:115.4px" width="16" height="16" viewBox="0 0 16 16"><rect x="0.5" y="0.5" width="14.6" height="14.2" rx="1.6" fill="#fbfbfb" stroke="#707070" stroke-width="1"/><rect x="2" y="2" width="11.6" height="11.2" fill="#e9e9e9"/><path d="M5.6 7.6V6a2 2 0 0 1 4.2 0V7.6" fill="none" stroke="#a6a6a6" stroke-width="1.3"/><rect x="3.7" y="6.9" width="8" height="4.7" rx="0.9" fill="#a4a4a4"/></svg>
<div class="rowt" style="left:22px;top:115.5px">Int Temperature</div>
<div class="rowt rowv" style="left:170.8px;top:115.5px;width:68px;text-align:center">19.3</div>
<div class="rowt rowv" style="left:239.6px;top:115.5px;width:41px;text-align:center">degC</div>
<div class="a" style="left:0;top:149px;width:283px;height:1px;background:#ebebeb"></div>
<svg class="a" style="left:4.3px;top:133.4px" width="16" height="16" viewBox="0 0 16 16"><rect x="0.5" y="0.5" width="14.6" height="14.2" rx="1.6" fill="#fbfbfb" stroke="#707070" stroke-width="1"/><rect x="2" y="2" width="11.6" height="11.2" fill="#e9e9e9"/><path d="M5.6 7.6V6a2 2 0 0 1 4.2 0V7.6" fill="none" stroke="#a6a6a6" stroke-width="1.3"/><rect x="3.7" y="6.9" width="8" height="4.7" rx="0.9" fill="#a4a4a4"/></svg>
<div class="rowt" style="left:22px;top:133.5px">TS1 Temperature</div>
<div class="rowt rowv" style="left:170.8px;top:133.5px;width:68px;text-align:center">21.6</div>
<div class="rowt rowv" style="left:239.6px;top:133.5px;width:41px;text-align:center">degC</div>
<div class="a" style="left:0;top:167px;width:283px;height:1px;background:#ebebeb"></div>
<svg class="a" style="left:4.3px;top:151.4px" width="16" height="16" viewBox="0 0 16 16"><rect x="0.5" y="0.5" width="14.6" height="14.2" rx="1.6" fill="#fbfbfb" stroke="#707070" stroke-width="1"/><rect x="2" y="2" width="11.6" height="11.2" fill="#e9e9e9"/><path d="M5.6 7.6V6a2 2 0 0 1 4.2 0V7.6" fill="none" stroke="#a6a6a6" stroke-width="1.3"/><rect x="3.7" y="6.9" width="8" height="4.7" rx="0.9" fill="#a4a4a4"/></svg>
<div class="rowt" style="left:22px;top:151.5px">TS2 Temperature</div>
<div class="rowt rowv" style="left:170.8px;top:151.5px;width:68px;text-align:center">25.2</div>
<div class="rowt rowv" style="left:239.6px;top:151.5px;width:41px;text-align:center">degC</div>
<div class="a" style="left:0;top:185px;width:283px;height:1px;background:#ebebeb"></div>
<svg class="a" style="left:4.3px;top:169.4px" width="16" height="16" viewBox="0 0 16 16"><rect x="0.5" y="0.5" width="14.6" height="14.2" rx="1.6" fill="#fbfbfb" stroke="#707070" stroke-width="1"/><rect x="2" y="2" width="11.6" height="11.2" fill="#e9e9e9"/><path d="M5.6 7.6V6a2 2 0 0 1 4.2 0V7.6" fill="none" stroke="#a6a6a6" stroke-width="1.3"/><rect x="3.7" y="6.9" width="8" height="4.7" rx="0.9" fill="#a4a4a4"/></svg>
<div class="rowt" style="left:22px;top:169.5px">TS3 Temperature</div>
<div class="rowt rowv" style="left:170.8px;top:169.5px;width:68px;text-align:center">25.0</div>
<div class="rowt rowv" style="left:239.6px;top:169.5px;width:41px;text-align:center">degC</div>
<div class="a" style="left:171px;top:22px;width:1px;height:160px;background:#efefef"></div>
<div class="a" style="left:240px;top:22px;width:1px;height:160px;background:#efefef"></div>
<div class="a" style="left:284px;top:0px;width:16px;height:182px;background:#f2f2f2"></div><div class="a" style="left:284.5px;top:18.5px;width:14.5px;height:67px;border:1px solid #979797;border-radius:2px;background:linear-gradient(90deg,#f6f6f6,#e9e9e9 45%,#d6d6d6 50%,#cbcbcb 85%,#dadada)"></div><svg class="a" style="left:284px;top:0px" width="16" height="182"><path d="M4.5 11 l3.5 -4 l3.5 4z" fill="#404040"/><path d="M4.3 49.5h7.4M4.3 52.5h7.4M4.3 55.5h7.4" stroke="#585858" stroke-width="1.1"/><path d="M4.3 50.5h7.4M4.3 53.5h7.4M4.3 56.5h7.4" stroke="#f4f4f4" stroke-width="0.9"/><path d="M4.5 173 l3.5 4 l3.5 -4z" fill="#404040"/></svg>
</div>
<div class="a" style="left:210px;top:428px;width:946px;height:24px;border-top:1px solid #b9c9e0;border-left:1px solid #d5deec;border-radius:5px 4px 0 0;background:linear-gradient(#dfe7f4 0px,#e6ecf6 3px,#ffffff 21px,#fff 100%)"></div>
<div class="t b" style="left:216px;top:433px;font-size:12px;line-height:15px;color:#1b4681;letter-spacing:0.2px">Bit Registers</div>
<div class="a R" style="left:1008px;top:431px;width:48px;height:14px;font-size:10.67px;line-height:14px;text-align:center;white-space:pre;letter-spacing:-0.1px">Bit High</div>
<div class="a G" style="left:1059px;top:431px;width:49px;height:14px;font-size:10.67px;line-height:14px;text-align:center;white-space:pre;letter-spacing:-0.1px">Bit Low</div>
<div class="a V" style="left:1111px;top:431px;width:41px;height:14px;font-size:10.67px;line-height:14px;text-align:center;white-space:pre;letter-spacing:-0.1px">RSVD</div>
<div class="a" style="left:216px;top:454px;width:936px;height:230px;border:1px solid #828790;background:#fff"></div>
<div class="a" style="left:217px;top:455px;width:917px;height:24px;background:linear-gradient(#ffffff 0px,#ffffff 9px,#f7f8fa 10px,#eff0f3 23px);border-bottom:1px solid #d0d0d0"></div>
<div class="a" style="left:318px;top:455px;width:1px;height:23px;background:#e2e3ea"></div>
<div class="a" style="left:385px;top:455px;width:1px;height:23px;background:#e2e3ea"></div>
<div class="a" style="left:478px;top:455px;width:1px;height:23px;background:#e2e3ea"></div>
<div class="a" style="left:571px;top:455px;width:1px;height:23px;background:#e2e3ea"></div>
<div class="a" style="left:664px;top:455px;width:1px;height:23px;background:#e2e3ea"></div>
<div class="a" style="left:757px;top:455px;width:1px;height:23px;background:#e2e3ea"></div>
<div class="a" style="left:850px;top:455px;width:1px;height:23px;background:#e2e3ea"></div>
<div class="a" style="left:943px;top:455px;width:1px;height:23px;background:#e2e3ea"></div>
<div class="a" style="left:1036px;top:455px;width:1px;height:23px;background:#e2e3ea"></div>
<div class="a" style="left:1129px;top:455px;width:1px;height:23px;background:#e2e3ea"></div>
<div class="hd" style="left:224px;top:461px">Name</div>
<div class="hd" style="left:319px;top:461px;width:66px;text-align:center">Value</div>
<div class="hd" style="left:385.5px;top:461px;width:92px;text-align:center">Bit7</div>
<div class="hd" style="left:478.5px;top:461px;width:92px;text-align:center">Bit6</div>
<div class="hd" style="left:571.5px;top:461px;width:92px;text-align:center">Bit5</div>
<div class="hd" style="left:664.5px;top:461px;width:92px;text-align:center">Bit4</div>
<div class="hd" style="left:757.5px;top:461px;width:92px;text-align:center">Bit3</div>
<div class="hd" style="left:850.5px;top:461px;width:92px;text-align:center">Bit2</div>
<div class="hd" style="left:943.5px;top:461px;width:92px;text-align:center">Bit1</div>
<div class="hd" style="left:1036.5px;top:461px;width:92px;text-align:center">Bit0</div>
<div class="a" style="left:217px;top:479px;width:917px;height:189px;background:#f2f2f2"></div>
<div class="a" style="left:217px;top:479px;width:169px;height:189px;background:#f5f5f5"></div>
<div class="a" style="left:318px;top:479px;width:1px;height:189px;background:#ececec"></div>
<div class="a" style="left:217px;top:497px;width:170px;height:1px;background:#ebebeb"></div>
<svg class="a" style="left:224.0px;top:481.4px" width="15" height="16" viewBox="0 0 15 16"><rect x="0.5" y="0.5" width="11" height="14.6" rx="1.3" fill="url(#eg)" stroke="#c2c2c2"/><path d="M3.2 12.4 L13.2 2.2" stroke="#262626" stroke-width="1.05"/><path d="M3.2 12.4 L6.6 9.6" stroke="#999" stroke-width="0.7" transform="translate(1.2 0.6)"/></svg>
<div class="rowt" style="left:240.4px;top:481.7px">Battery Mode...</div>
<div class="rowt" style="left:319px;top:481.5px;width:66px;text-align:center">0x6001</div>
<div class="cell G" style="left:387px;top:480px;padding-top:1.5px">CapM</div>
<div class="cell R" style="left:480px;top:480px;padding-top:1.5px">ChgM</div>
<div class="cell R uc" style="left:573px;top:480px;padding-top:1.5px">AM</div>
<div class="cell V uc" style="left:666px;top:480px;padding-top:1.5px">RSVD</div>
<div class="cell V uc" style="left:759px;top:480px;padding-top:1.5px">RSVD</div>
<div class="cell V uc" style="left:852px;top:480px;padding-top:1.5px">RSVD</div>
<div class="cell G uc" style="left:945px;top:480px;padding-top:1.5px">PB</div>
<div class="cell G uc" style="left:1038px;top:480px;padding-top:1.5px">CC</div>
<div class="a" style="left:217px;top:515px;width:170px;height:1px;background:#ebebeb"></div>
<div class="rowt" style="left:240.4px;top:499.7px">Battery Mode...</div>
<div class="cell G uc" style="left:387px;top:498px;padding-top:1.5px">CF</div>
<div class="cell V uc" style="left:480px;top:498px;padding-top:1.5px">RSVD</div>
<div class="cell V uc" style="left:573px;top:498px;padding-top:1.5px">RSVD</div>
<div class="cell V uc" style="left:666px;top:498px;padding-top:1.5px">RSVD</div>
<div class="cell V uc" style="left:759px;top:498px;padding-top:1.5px">RSVD</div>
<div class="cell V uc" style="left:852px;top:498px;padding-top:1.5px">RSVD</div>
<div class="cell G uc" style="left:945px;top:498px;padding-top:1.5px">PBS</div>
<div class="cell R uc" style="left:1038px;top:498px;padding-top:1.5px">ICC</div>
<div class="a" style="left:217px;top:533px;width:170px;height:1px;background:#ebebeb"></div>
<svg class="a" style="left:222.10000000000002px;top:517.1999999999999px" width="16" height="16" viewBox="0 0 16 16"><rect x="0.5" y="0.5" width="14.6" height="14.2" rx="1.6" fill="#fbfbfb" stroke="#707070" stroke-width="1"/><rect x="2" y="2" width="11.6" height="11.2" fill="#e9e9e9"/><path d="M5.6 7.6V6a2 2 0 0 1 4.2 0V7.6" fill="none" stroke="#a6a6a6" stroke-width="1.3"/><rect x="3.7" y="6.9" width="8" height="4.7" rx="0.9" fill="#a4a4a4"/></svg>
<div class="rowt" style="left:240.4px;top:517.7px">Battery Statu...</div>
<div class="rowt" style="left:319px;top:517.5px;width:66px;text-align:center">0x00C0</div>
<div class="cell G uc" style="left:387px;top:516px;padding-top:1.5px">OCA</div>
<div class="cell G uc" style="left:480px;top:516px;padding-top:1.5px">TCA</div>
<div class="cell V uc" style="left:573px;top:516px;padding-top:1.5px">RSVD</div>
<div class="cell G uc" style="left:666px;top:516px;padding-top:1.5px">OTA</div>
<div class="cell G uc" style="left:759px;top:516px;padding-top:1.5px">TDA</div>
<div class="cell V uc" style="left:852px;top:516px;padding-top:1.5px">RSVD</div>
<div class="cell G uc" style="left:945px;top:516px;padding-top:1.5px">RCA</div>
<div class="cell G uc" style="left:1038px;top:516px;padding-top:1.5px">RTA</div>
<div class="a" style="left:217px;top:551px;width:170px;height:1px;background:#ebebeb"></div>
<div class="rowt" style="left:240.4px;top:535.7px">Battery Statu...</div>
<div class="cell R uc" style="left:387px;top:534px;padding-top:1.5px">INIT</div>
<div class="cell R uc" style="left:480px;top:534px;padding-top:1.5px">DSG</div>
<div class="cell G uc" style="left:573px;top:534px;padding-top:1.5px">FC</div>
<div class="cell G uc" style="left:666px;top:534px;padding-top:1.5px">FD</div>
<div class="cell G uc" style="left:759px;top:534px;padding-top:1.5px">EC3</div>
<div class="cell G uc" style="left:852px;top:534px;padding-top:1.5px">EC2</div>
<div class="cell G uc" style="left:945px;top:534px;padding-top:1.5px">EC1</div>
<div class="cell G uc" style="left:1038px;top:534px;padding-top:1.5px">EC0</div>
<div class="a" style="left:217px;top:569px;width:170px;height:1px;background:#ebebeb"></div>
<svg class="a" style="left:222.10000000000002px;top:553.1999999999999px" width="16" height="16" viewBox="0 0 16 16"><rect x="0.5" y="0.5" width="14.6" height="14.2" rx="1.6" fill="#fbfbfb" stroke="#707070" stroke-width="1"/><rect x="2" y="2" width="11.6" height="11.2" fill="#e9e9e9"/><path d="M5.6 7.6V6a2 2 0 0 1 4.2 0V7.6" fill="none" stroke="#a6a6a6" stroke-width="1.3"/><rect x="3.7" y="6.9" width="8" height="4.7" rx="0.9" fill="#a4a4a4"/></svg>
<div class="rowt b" style="left:240.4px;top:553.7px">Operation S...</div>
<div class="rowt b" style="left:319px;top:553.5px;width:66px;text-align:center">0x6181</div>
<div class="cell G b uc" style="left:387px;top:552px;padding-top:1.5px">SLEEP</div>
<div class="cell R b uc" style="left:480px;top:552px;padding-top:1.5px">XCHG</div>
<div class="cell R b uc" style="left:573px;top:552px;padding-top:1.5px">XDSG</div>
<div class="cell G b uc" style="left:666px;top:552px;padding-top:1.5px">PF</div>
<div class="cell G b uc" style="left:759px;top:552px;padding-top:1.5px">SS</div>
<div class="cell G b uc" style="left:852px;top:552px;padding-top:1.5px">SDV</div>
<div class="cell G b uc" style="left:945px;top:552px;padding-top:1.5px">SEC1</div>
<div class="cell R b uc" style="left:1038px;top:552px;padding-top:1.5px">SEC0</div>
<div class="a" style="left:217px;top:587px;width:170px;height:1px;background:#ebebeb"></div>
<div class="rowt" style="left:240.4px;top:571.7px">Operation Sta...</div>
<div class="cell R uc" style="left:387px;top:570px;padding-top:1.5px">BTP_INT</div>
<div class="cell G uc" style="left:480px;top:570px;padding-top:1.5px">SMOOTH</div>
<div class="cell G uc" style="left:573px;top:570px;padding-top:1.5px">FUSE</div>
<div class="cell V uc" style="left:666px;top:570px;padding-top:1.5px">RSVD</div>
<div class="cell G uc" style="left:759px;top:570px;padding-top:1.5px">PCHG</div>
<div class="cell G uc" style="left:852px;top:570px;padding-top:1.5px">CHG</div>
<div class="cell G uc" style="left:945px;top:570px;padding-top:1.5px">DSG</div>
<div class="cell R uc" style="left:1038px;top:570px;padding-top:1.5px">PRES</div>
<div class="a" style="left:217px;top:605px;width:170px;height:1px;background:#ebebeb"></div>
<svg class="a" style="left:222.10000000000002px;top:589.1999999999999px" width="16" height="16" viewBox="0 0 16 16"><rect x="0.5" y="0.5" width="14.6" height="14.2" rx="1.6" fill="#fbfbfb" stroke="#707070" stroke-width="1"/><rect x="2" y="2" width="11.6" height="11.2" fill="#e9e9e9"/><path d="M5.6 7.6V6a2 2 0 0 1 4.2 0V7.6" fill="none" stroke="#a6a6a6" stroke-width="1.3"/><rect x="3.7" y="6.9" width="8" height="4.7" rx="0.9" fill="#a4a4a4"/></svg>
<div class="rowt" style="left:240.4px;top:589.7px">Operation Sta...</div>
<div class="rowt" style="left:319px;top:589.5px;width:66px;text-align:center">0x0000</div>
<div class="cell V uc" style="left:387px;top:588px;padding-top:1.5px">RSVD</div>
<div class="cell V uc" style="left:480px;top:588px;padding-top:1.5px">RSVD</div>
<div class="cell G uc" style="left:573px;top:588px;padding-top:1.5px">EMSHUT</div>
<div class="cell G uc" style="left:666px;top:588px;padding-top:1.5px">CB</div>
<div class="cell G uc" style="left:759px;top:588px;padding-top:1.5px">SLPCC</div>
<div class="cell G uc" style="left:852px;top:588px;padding-top:1.5px">SLPAD</div>
<div class="cell G uc" style="left:945px;top:588px;padding-top:1.5px">SMBLCAL</div>
<div class="cell G uc" style="left:1038px;top:588px;padding-top:1.5px">INIT</div>
<div class="a" style="left:217px;top:623px;width:170px;height:1px;background:#ebebeb"></div>
<div class="rowt" style="left:240.4px;top:607.7px">Operation Sta...</div>
<div class="cell G uc" style="left:387px;top:606px;padding-top:1.5px">SLEEPM</div>
<div class="cell G uc" style="left:480px;top:606px;padding-top:1.5px">XL</div>
<div class="cell G uc" style="left:573px;top:606px;padding-top:1.5px">CAL_OFFSET</div>
<div class="cell G uc" style="left:666px;top:606px;padding-top:1.5px">CAL</div>
<div class="cell G uc" style="left:759px;top:606px;padding-top:1.5px">AUTOCALM</div>
<div class="cell G uc" style="left:852px;top:606px;padding-top:1.5px">AUTH</div>
<div class="cell G uc" style="left:945px;top:606px;padding-top:1.5px">LED</div>
<div class="cell G uc" style="left:1038px;top:606px;padding-top:1.5px">SDM</div>
<div class="a" style="left:217px;top:641px;width:170px;height:1px;background:#ebebeb"></div>
<svg class="a" style="left:222.10000000000002px;top:625.1999999999999px" width="16" height="16" viewBox="0 0 16 16"><rect x="0.5" y="0.5" width="14.6" height="14.2" rx="1.6" fill="#fbfbfb" stroke="#707070" stroke-width="1"/><rect x="2" y="2" width="11.6" height="11.2" fill="#e9e9e9"/><path d="M5.6 7.6V6a2 2 0 0 1 4.2 0V7.6" fill="none" stroke="#a6a6a6" stroke-width="1.3"/><rect x="3.7" y="6.9" width="8" height="4.7" rx="0.9" fill="#a4a4a4"/></svg>
<div class="rowt" style="left:240.4px;top:625.7px">Temp Range (...</div>
<div class="rowt" style="left:319px;top:625.5px;width:66px;text-align:center">0x08</div>
<div class="cell V uc" style="left:387px;top:624px;padding-top:1.5px">RSVD</div>
<div class="cell V uc" style="left:480px;top:624px;padding-top:1.5px">RSVD</div>
<div class="cell V uc" style="left:573px;top:624px;padding-top:1.5px">RSVD</div>
<div class="cell V uc" style="left:666px;top:624px;padding-top:1.5px">RSVD</div>
<div class="cell V uc" style="left:759px;top:624px;padding-top:1.5px">RSVD</div>
<div class="cell V uc" style="left:852px;top:624px;padding-top:1.5px">RSVD</div>
<div class="cell V uc" style="left:945px;top:624px;padding-top:1.5px">RSVD</div>
<div class="cell V uc" style="left:1038px;top:624px;padding-top:1.5px">RSVD</div>
<div class="a" style="left:217px;top:659px;width:170px;height:1px;background:#ebebeb"></div>
<div class="rowt" style="left:240.4px;top:643.7px">Temp Range (...</div>
<div class="cell V uc" style="left:387px;top:642px;padding-top:1.5px">RSVD</div>
<div class="cell G uc" style="left:480px;top:642px;padding-top:1.5px">OT</div>
<div class="cell G uc" style="left:573px;top:642px;padding-top:1.5px">HT</div>
<div class="cell G uc" style="left:666px;top:642px;padding-top:1.5px">STH</div>
<div class="cell R uc" style="left:759px;top:642px;padding-top:1.5px">RT</div>
<div class="cell G uc" style="left:852px;top:642px;padding-top:1.5px">STL</div>
<div class="cell G uc" style="left:945px;top:642px;padding-top:1.5px">LT</div>
<div class="cell G uc" style="left:1038px;top:642px;padding-top:1.5px">UT</div>
<div class="a" style="left:217px;top:677px;width:170px;height:1px;background:#ebebeb"></div>
<svg class="a" style="left:222.10000000000002px;top:661.1999999999999px" width="16" height="16" viewBox="0 0 16 16"><rect x="0.5" y="0.5" width="14.6" height="14.2" rx="1.6" fill="#fbfbfb" stroke="#707070" stroke-width="1"/><rect x="2" y="2" width="11.6" height="11.2" fill="#e9e9e9"/><path d="M5.6 7.6V6a2 2 0 0 1 4.2 0V7.6" fill="none" stroke="#a6a6a6" stroke-width="1.3"/><rect x="3.7" y="6.9" width="8" height="4.7" rx="0.9" fill="#a4a4a4"/></svg>
<div class="rowt" style="left:240.4px;top:661.7px">Charging Stat...</div>
<div class="rowt" style="left:319px;top:661.5px;width:66px;text-align:center">0x0004</div>
<div class="cell G uc" style="left:387px;top:660px;padding-top:1.5px">TAPER</div>
<div class="cell V uc" style="left:480px;top:660px;padding-top:1.5px">RSVD</div>
<div class="cell V uc" style="left:573px;top:660px;padding-top:1.5px">RSVD</div>
<div class="cell V uc" style="left:666px;top:660px;padding-top:1.5px">RSVD</div>
<div class="cell V uc" style="left:759px;top:660px;padding-top:1.5px">RSVD</div>
<div class="cell G uc" style="left:852px;top:660px;padding-top:1.5px">CCC</div>
<div class="cell G uc" style="left:945px;top:660px;padding-top:1.5px">CVR</div>
<div class="cell G uc" style="left:1038px;top:660px;padding-top:1.5px">CCR</div>
<div class="a" style="left:1133.2px;top:455px;width:17.8px;height:213px;background:#f2f2f2"></div><div class="a" style="left:1133.7px;top:473.8px;width:16.3px;height:54px;border:1px solid #979797;border-radius:2px;background:linear-gradient(90deg,#f6f6f6,#e9e9e9 45%,#d6d6d6 50%,#cbcbcb 85%,#dadada)"></div><svg class="a" style="left:1133.2px;top:455px" width="17.8" height="213"><path d="M5.4 11 l3.5 -4 l3.5 4z" fill="#404040"/><path d="M4.3 43.5h7.4M4.3 46.5h7.4M4.3 49.5h7.4" stroke="#585858" stroke-width="1.1"/><path d="M4.3 44.5h7.4M4.3 47.5h7.4M4.3 50.5h7.4" stroke="#f4f4f4" stroke-width="0.9"/><path d="M5.4 204 l3.5 4 l3.5 -4z" fill="#404040"/></svg>
</body></html>
